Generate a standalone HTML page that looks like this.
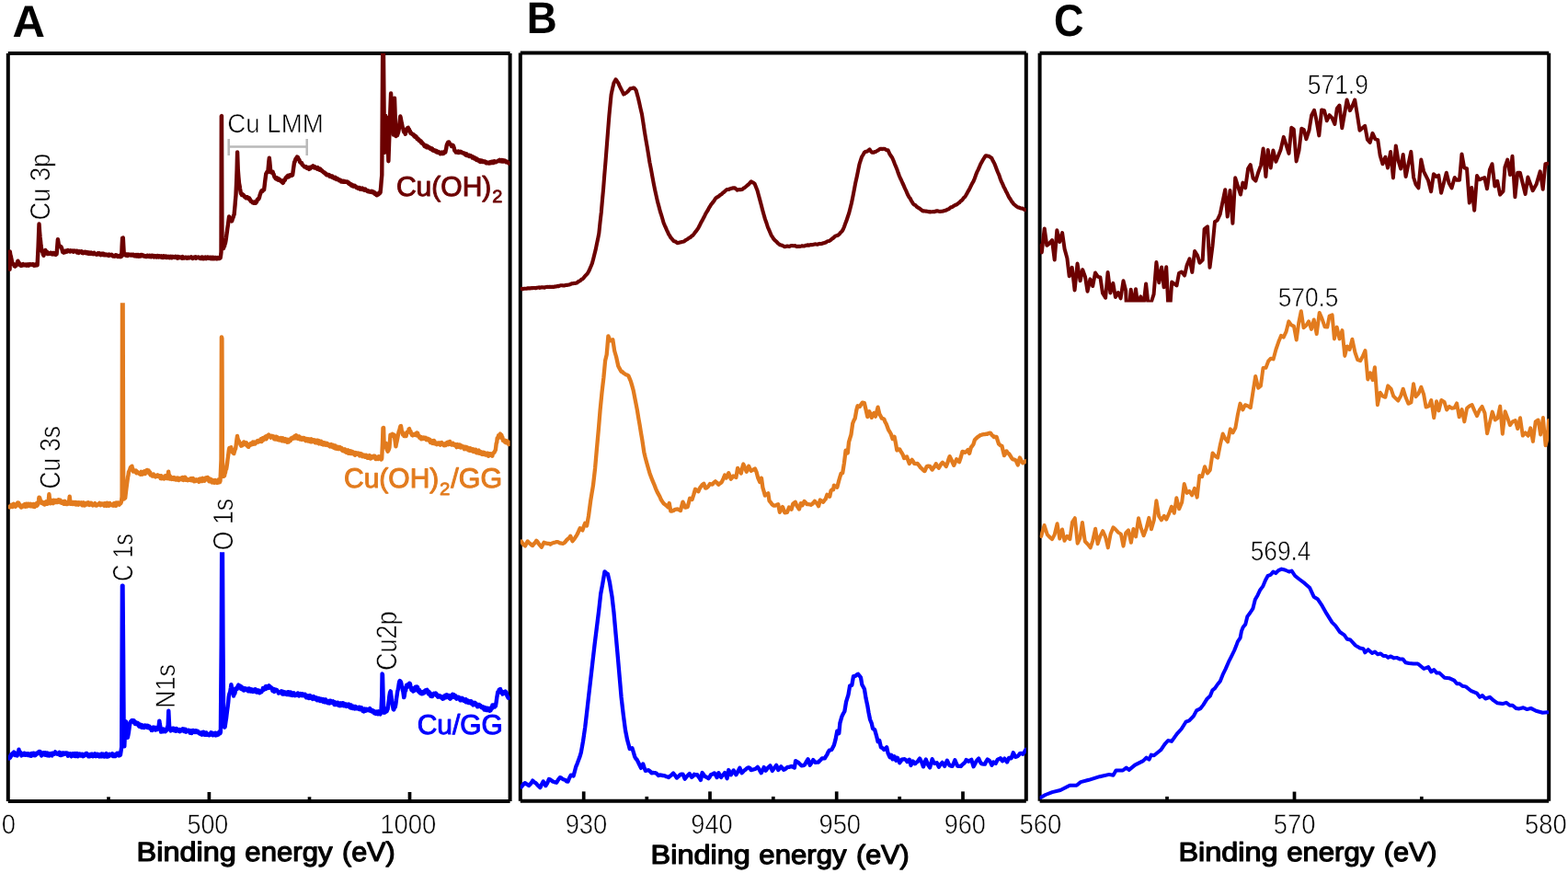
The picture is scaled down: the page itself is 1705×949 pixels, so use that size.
<!DOCTYPE html>
<html lang="en">
<head>
<meta charset="utf-8">
<title>XPS spectra</title>
<style>
html,body{margin:0;padding:0;background:#fff;}
body{width:1705px;height:949px;overflow:hidden;}
svg{display:block;}
</style>
</head>
<body>
<svg width="1705" height="949" viewBox="0 0 1705 949">
<rect x="0" y="0" width="1705" height="949" fill="#ffffff"/>
<defs>
<clipPath id="clA"><rect x="8.8" y="58.0" width="545.8" height="813.0"/></clipPath>
<clipPath id="clB"><rect x="565.8" y="57.6" width="550.0" height="813.2"/></clipPath>
<clipPath id="clC"><rect x="1130.6" y="57.8" width="553.6" height="813.0"/></clipPath>
</defs>
<path d="M8.8 58.0H554.6M554.6 58.0V871.0M554.6 871.0H8.8M8.8 871.0V58.0" fill="none" stroke="#000" stroke-width="4" stroke-linecap="butt"/>
<path d="M565.8 57.6H1115.8M1115.8 57.6V870.8M1115.8 870.8H565.8M565.8 870.8V57.6" fill="none" stroke="#000" stroke-width="4" stroke-linecap="butt"/>
<path d="M1130.6 57.8H1684.2M1684.2 57.8V870.8M1684.2 870.8H1130.6M1130.6 870.8V57.8" fill="none" stroke="#000" stroke-width="4" stroke-linecap="butt"/>
<rect x="225.55" y="861.0" width="3.7" height="10.0" fill="#000"/>
<rect x="443.65" y="861.0" width="3.7" height="10.0" fill="#000"/>
<rect x="116.15" y="866.3" width="3.7" height="4.7" fill="#000"/>
<rect x="334.65" y="866.3" width="3.7" height="4.7" fill="#000"/>
<rect x="632.85" y="860.4" width="3.7" height="10.4" fill="#000"/>
<rect x="770.15" y="860.4" width="3.7" height="10.4" fill="#000"/>
<rect x="907.85" y="860.4" width="3.7" height="10.4" fill="#000"/>
<rect x="1045.15" y="860.4" width="3.7" height="10.4" fill="#000"/>
<rect x="701.45" y="865.9" width="3.7" height="4.9" fill="#000"/>
<rect x="838.95" y="865.9" width="3.7" height="4.9" fill="#000"/>
<rect x="976.35" y="865.9" width="3.7" height="4.9" fill="#000"/>
<rect x="1405.65" y="860.6" width="3.7" height="10.2" fill="#000"/>
<rect x="1267.15" y="865.9" width="3.7" height="4.9" fill="#000"/>
<rect x="1543.95" y="865.9" width="3.7" height="4.9" fill="#000"/>
<defs>
<clipPath id="clAo"><rect x="8.8" y="329.3" width="545.8" height="541.7"/></clipPath>
<clipPath id="clAb"><rect x="8.8" y="600.2" width="545.8" height="270.8"/></clipPath>
<clipPath id="clCr"><rect x="1130.6" y="57.8" width="553.6" height="270.6"/></clipPath>
</defs>
<g clip-path="url(#clAb)">
<polyline points="10.0,824.4 10.6,822.8 11.1,823.6 11.7,820.6 12.2,821.8 12.7,820.8 13.2,819.3 13.7,820.4 14.2,818.4 14.7,819.3 15.2,817.6 15.7,818.0 16.2,819.4 16.7,821.1 17.2,819.0 17.7,819.7 18.2,821.3 18.7,821.5 19.1,819.3 19.6,817.7 20.0,818.8 20.5,814.7 21.0,818.2 21.5,817.1 21.9,817.5 22.4,818.2 22.9,819.6 23.4,821.4 23.8,819.2 24.3,820.5 24.7,820.7 25.2,819.8 25.6,820.4 26.1,818.7 26.6,818.7 27.0,819.2 27.5,820.8 27.9,819.9 28.4,819.5 28.8,820.4 29.3,819.9 29.8,819.4 30.2,821.1 30.7,820.8 31.1,819.3 31.6,820.4 32.0,820.3 32.5,821.5 32.9,821.0 33.4,819.5 33.9,821.8 34.3,818.9 34.8,820.0 35.2,821.1 35.7,819.1 36.1,820.2 36.6,818.7 37.0,820.9 37.5,821.2 38.0,820.3 38.5,821.2 39.0,819.1 39.5,820.2 40.0,819.6 40.5,819.4 41.1,818.1 41.6,818.6 42.2,818.1 42.7,817.1 43.2,818.4 43.6,817.0 44.1,819.8 44.6,820.2 45.1,821.4 45.5,820.8 46.0,819.0 46.4,819.4 46.9,820.4 47.3,818.2 47.8,819.7 48.2,818.7 48.7,818.6 49.2,818.4 49.6,820.9 50.1,818.7 50.5,819.1 51.0,819.6 51.4,821.3 51.9,818.6 52.3,819.9 52.8,820.3 53.3,821.4 53.7,821.1 54.2,821.2 54.6,819.2 55.1,819.7 55.5,819.4 56.0,821.2 56.4,821.4 56.9,818.6 57.3,818.7 57.8,818.9 58.2,818.8 58.7,819.6 59.2,819.8 59.7,818.5 60.2,817.4 60.7,818.6 61.2,818.2 61.7,818.6 62.2,819.7 62.7,819.1 63.2,818.7 63.7,819.2 64.2,819.7 64.7,817.8 65.2,820.8 65.7,820.7 66.2,821.0 66.6,820.8 67.1,819.5 67.5,819.5 68.0,818.5 68.4,820.4 68.9,818.5 69.4,818.5 69.8,819.1 70.3,818.9 70.7,819.6 71.2,818.6 71.6,818.5 72.1,819.1 72.5,818.9 73.0,819.9 73.5,818.8 73.9,821.7 74.4,820.8 74.8,819.3 75.3,819.7 75.7,820.0 76.2,820.1 76.7,819.3 77.1,821.8 77.6,822.3 78.0,820.5 78.5,820.5 78.9,819.2 79.4,819.2 79.8,820.1 80.3,819.8 80.7,821.7 81.2,819.4 81.6,819.0 82.1,822.1 82.5,820.7 83.0,819.4 83.4,820.7 83.9,819.0 84.3,820.7 84.8,822.2 85.2,821.8 85.7,821.3 86.1,819.8 86.6,820.1 87.0,819.5 87.5,821.5 87.9,820.7 88.4,821.5 88.8,820.0 89.3,819.7 89.7,821.7 90.2,822.2 90.6,821.8 91.1,821.6 91.5,821.7 92.0,821.4 92.4,819.7 92.9,820.7 93.3,820.1 93.8,819.0 94.3,819.0 94.7,819.9 95.2,819.8 95.6,821.3 96.1,822.2 96.5,820.5 97.0,822.1 97.4,822.3 97.9,822.2 98.3,820.2 98.8,819.7 99.2,819.7 99.7,819.6 100.1,819.7 100.6,821.1 101.0,822.1 101.5,821.9 101.9,820.6 102.4,821.2 102.8,821.7 103.3,819.3 103.7,821.3 104.2,822.1 104.6,821.7 105.1,821.6 105.5,820.7 106.0,819.7 106.5,821.7 106.9,820.2 107.4,821.8 107.8,822.4 108.3,820.4 108.7,820.5 109.2,822.3 109.6,821.6 110.1,819.7 110.5,819.5 111.0,819.6 111.4,822.2 111.9,821.9 112.3,819.6 112.8,822.0 113.2,822.5 113.7,821.4 114.1,820.4 114.6,821.0 115.0,819.6 115.5,819.2 115.9,822.5 116.4,821.4 116.8,821.0 117.3,822.4 117.8,820.7 118.2,822.1 118.7,821.9 119.1,819.8 119.6,820.0 120.0,820.1 120.5,819.9 121.0,821.0 121.4,819.9 121.9,820.4 122.3,819.4 122.8,822.1 123.2,820.1 123.7,820.5 124.2,820.9 124.6,822.0 125.1,820.3 125.5,822.0 126.0,820.5 126.4,820.6 126.9,820.6 127.3,818.8 127.8,820.2 128.3,819.3 128.7,818.7 129.2,821.4 129.6,819.2 130.1,820.2 130.5,821.1 131.0,820.3 131.6,816.1 132.2,812.0 132.9,636.7 133.5,636.6 134.1,712.4 134.6,788.7 135.3,811.4 136.2,789.9 136.6,787.4 137.1,784.5 137.7,792.8 138.3,801.9 138.8,801.7 139.3,799.6 139.9,796.1 140.4,792.4 140.9,788.8 141.5,785.9 142.0,784.5 142.6,784.2 143.1,783.4 143.7,784.5 144.2,783.1 144.7,784.2 145.2,785.0 145.7,783.3 146.1,784.9 146.6,786.7 147.1,786.9 147.6,785.1 148.1,785.6 148.6,786.9 149.0,785.8 149.5,786.6 150.0,786.2 150.4,788.4 150.9,789.0 151.4,789.6 151.8,787.3 152.3,789.4 152.8,789.4 153.2,787.8 153.7,790.5 154.2,790.8 154.7,788.3 155.1,790.9 155.6,789.0 156.1,789.4 156.6,791.1 157.1,790.6 157.6,788.4 158.1,789.3 158.5,789.7 159.0,789.1 159.5,788.7 160.0,789.3 160.4,791.0 160.9,788.8 161.4,790.9 161.8,790.7 162.3,789.6 162.8,790.9 163.3,792.1 163.7,792.0 164.2,790.7 164.7,793.8 165.1,793.2 165.6,793.8 166.0,790.9 166.5,791.4 166.9,790.6 167.4,793.1 167.8,791.4 168.3,790.9 168.7,791.9 169.2,793.6 169.6,793.3 170.1,791.4 170.6,790.8 171.0,793.1 171.5,791.7 171.9,791.9 172.4,790.8 172.9,787.0 173.3,783.6 173.8,787.2 174.3,789.5 175.1,795.6 175.6,794.5 176.0,795.1 176.5,792.6 177.0,795.2 177.4,792.5 177.9,795.2 178.4,793.8 178.9,793.4 179.3,794.1 179.8,795.3 180.3,793.1 180.7,792.6 181.2,793.9 181.7,791.6 182.1,789.9 182.6,789.8 183.3,772.6 184.1,789.0 184.8,792.9 185.3,792.8 185.7,794.4 186.2,792.8 186.6,793.5 187.1,792.4 187.5,792.9 188.0,791.8 188.5,792.6 188.9,791.8 189.4,794.2 189.8,793.6 190.3,792.3 190.8,793.3 191.2,794.8 191.7,792.0 192.1,794.4 192.6,793.1 193.0,793.3 193.5,794.4 194.0,793.0 194.4,793.4 194.9,794.1 195.4,795.2 195.9,793.1 196.3,794.8 196.8,794.4 197.3,794.2 197.8,793.5 198.2,793.4 198.7,792.4 199.2,792.8 199.7,792.6 200.1,795.0 200.6,793.4 201.1,793.1 201.5,792.9 202.0,795.6 202.4,795.7 202.9,795.1 203.4,793.9 203.8,793.8 204.3,794.1 204.7,794.7 205.2,793.7 205.7,794.8 206.1,794.2 206.6,796.7 207.1,796.8 207.5,795.4 208.0,794.4 208.4,797.0 208.9,794.8 209.4,795.0 209.8,793.9 210.3,795.3 210.7,795.6 211.2,795.8 211.7,794.8 212.1,795.9 212.6,794.3 213.0,795.3 213.5,794.7 213.9,795.9 214.4,794.7 214.8,794.7 215.3,795.7 215.8,795.5 216.2,796.8 216.7,796.7 217.1,797.5 217.6,797.3 218.0,797.5 218.5,798.1 218.9,796.5 219.4,796.4 219.8,798.7 220.3,795.9 220.8,797.9 221.2,797.7 221.7,795.8 222.1,798.5 222.6,798.8 223.0,797.9 223.5,798.4 223.9,798.7 224.4,796.5 224.9,797.8 225.3,797.8 225.8,798.9 226.2,798.9 226.7,799.0 227.1,798.2 227.6,799.3 228.1,798.6 228.5,798.6 229.0,797.1 229.4,796.4 229.9,796.8 230.4,797.6 230.8,796.8 231.3,799.3 231.7,798.4 232.2,798.7 232.6,798.7 233.1,798.9 233.6,798.3 234.0,796.7 234.5,799.4 234.9,799.3 235.4,798.4 235.8,798.6 236.3,799.0 236.8,796.7 237.3,798.6 237.8,796.6 238.4,795.6 238.9,795.9 239.4,797.1 239.9,795.8 240.7,700.1 241.2,591.6 241.9,590.0 242.5,699.9 243.2,788.9 243.7,790.0 244.1,790.6 244.6,790.1 245.1,786.9 245.6,783.5 246.1,780.3 246.6,776.1 247.1,772.1 247.7,767.7 248.2,763.6 248.7,757.6 249.1,755.4 249.6,753.7 250.1,752.6 250.5,750.3 250.9,747.8 251.4,744.1 251.9,747.0 252.4,748.9 253.0,751.0 253.5,751.9 254.0,756.6 254.5,753.0 255.1,754.3 255.6,752.8 256.2,748.4 256.7,748.6 257.2,749.2 257.7,749.1 258.3,746.7 258.8,745.4 259.3,744.6 259.8,747.4 260.2,745.2 260.7,746.7 261.1,745.5 261.6,747.1 262.1,748.8 262.5,746.3 263.0,748.9 263.5,748.2 263.9,749.7 264.4,749.4 264.9,748.1 265.3,750.6 265.8,749.5 266.2,748.2 266.7,748.4 267.2,750.1 267.6,749.9 268.1,749.4 268.6,748.9 269.1,749.6 269.5,749.5 270.0,751.3 270.5,748.4 270.9,751.0 271.4,751.3 271.9,748.8 272.3,751.5 272.8,750.8 273.3,751.5 273.8,749.4 274.2,749.7 274.7,749.7 275.2,751.9 275.6,750.6 276.1,749.9 276.6,750.3 277.0,749.9 277.5,749.2 278.0,749.5 278.4,752.1 278.9,750.3 279.3,752.6 279.8,750.4 280.3,750.6 280.7,751.5 281.2,750.5 281.7,751.3 282.1,753.3 282.6,753.2 283.1,752.6 283.5,751.7 284.0,752.3 284.5,752.1 285.0,750.5 285.4,750.7 285.9,748.1 286.4,750.1 286.8,748.8 287.3,749.5 287.8,748.9 288.3,747.3 288.7,746.2 289.2,748.9 289.7,745.9 290.2,746.9 290.7,746.3 291.1,746.0 291.6,747.3 292.1,747.9 292.6,745.3 293.1,747.1 293.5,746.3 294.0,747.7 294.4,747.6 294.9,747.3 295.3,747.7 295.8,748.3 296.3,750.9 296.7,749.7 297.2,748.9 297.7,751.5 298.2,752.0 298.6,750.3 299.1,749.5 299.6,749.9 300.0,749.7 300.5,750.8 301.0,750.1 301.4,750.8 301.9,751.1 302.4,752.3 302.9,753.6 303.3,753.3 303.8,752.4 304.3,752.5 304.7,752.9 305.2,752.4 305.7,752.3 306.1,751.4 306.6,752.2 307.1,754.6 307.5,751.8 308.0,753.1 308.4,753.6 308.9,754.5 309.4,752.3 309.8,752.5 310.3,752.5 310.8,753.1 311.2,753.3 311.7,755.0 312.2,754.8 312.6,754.9 313.1,752.1 313.6,752.2 314.0,754.5 314.5,755.2 315.0,753.9 315.4,754.3 315.9,752.4 316.3,753.8 316.8,755.7 317.3,755.4 317.7,755.5 318.2,756.0 318.7,753.6 319.1,753.2 319.6,753.4 320.1,754.7 320.5,755.3 321.0,756.2 321.5,755.5 322.0,755.3 322.4,755.7 322.9,754.7 323.4,755.1 323.8,753.4 324.3,756.0 324.8,754.1 325.2,756.5 325.7,755.6 326.2,754.5 326.7,754.0 327.1,754.4 327.6,755.8 328.1,756.1 328.5,754.2 329.0,754.2 329.4,755.9 329.9,756.2 330.3,755.6 330.8,755.2 331.3,756.6 331.7,754.7 332.2,755.8 332.6,756.5 333.1,758.3 333.5,757.3 334.0,758.2 334.4,757.0 334.9,756.3 335.4,756.4 335.8,759.0 336.3,758.2 336.7,757.0 337.2,756.1 337.6,757.9 338.1,758.6 338.6,757.8 339.0,757.4 339.5,758.9 339.9,759.9 340.4,757.6 340.9,757.1 341.3,758.2 341.8,758.6 342.2,759.6 342.7,758.1 343.2,760.3 343.6,760.2 344.1,759.5 344.6,758.6 345.0,761.3 345.5,759.2 345.9,761.0 346.4,759.1 346.9,759.2 347.3,761.1 347.8,759.7 348.2,762.0 348.7,760.6 349.2,759.7 349.6,759.9 350.1,760.7 350.5,761.6 351.0,762.7 351.5,760.1 351.9,761.1 352.4,760.6 352.8,763.3 353.3,760.6 353.8,760.4 354.2,760.5 354.7,761.8 355.2,763.6 355.6,763.7 356.1,763.3 356.5,764.3 357.0,764.2 357.5,762.2 357.9,761.9 358.4,764.5 358.8,764.0 359.3,761.7 359.8,764.0 360.2,763.1 360.7,763.2 361.1,763.2 361.6,762.7 362.1,762.3 362.5,763.3 363.0,763.7 363.4,765.9 363.9,763.2 364.4,766.1 364.8,763.7 365.3,764.3 365.8,766.0 366.2,766.1 366.7,764.9 367.1,763.7 367.6,765.2 368.1,765.0 368.5,767.0 369.0,764.6 369.4,765.3 369.9,767.2 370.4,764.3 370.9,765.6 371.3,766.9 371.8,766.7 372.3,764.2 372.8,764.2 373.3,764.3 373.7,767.2 374.2,764.9 374.7,766.5 375.2,767.2 375.6,765.5 376.1,765.4 376.6,767.9 377.0,766.9 377.5,765.9 378.0,767.6 378.4,766.4 378.9,766.4 379.4,765.6 379.8,768.3 380.3,769.0 380.8,768.2 381.2,769.4 381.7,766.5 382.2,767.3 382.6,768.2 383.1,769.9 383.5,770.0 384.0,768.2 384.4,767.8 384.9,768.5 385.3,768.8 385.8,770.4 386.3,768.0 386.7,770.2 387.2,770.0 387.6,770.4 388.1,770.3 388.5,769.9 389.0,769.0 389.4,769.1 389.9,769.3 390.4,770.9 390.8,768.7 391.3,769.3 391.8,771.3 392.3,769.7 392.7,769.3 393.2,769.3 393.7,771.3 394.2,770.6 394.6,773.0 395.1,772.9 395.6,773.4 396.1,771.1 396.5,770.6 397.0,770.8 397.5,772.1 397.9,772.7 398.4,771.7 398.9,770.8 399.4,771.3 399.8,771.9 400.3,772.0 400.8,772.1 401.2,772.3 401.7,771.6 402.2,770.0 402.6,772.7 403.1,771.2 403.6,772.4 404.0,772.0 404.5,773.5 405.0,772.0 405.5,772.5 405.9,772.7 406.4,772.7 406.9,775.3 407.3,774.3 407.8,773.5 408.3,773.8 408.8,775.9 409.2,774.3 409.7,773.5 410.2,775.5 410.6,775.1 411.1,776.3 411.6,773.3 412.0,774.7 412.5,775.9 413.0,776.0 413.5,776.4 413.9,773.5 414.4,775.0 415.2,756.7 415.6,732.4 416.0,733.7 416.6,756.9 417.5,774.8 418.1,772.9 418.7,774.5 419.2,772.7 419.7,771.7 420.1,773.1 420.6,773.3 421.1,770.0 421.6,771.0 422.2,766.4 422.8,761.5 423.4,756.5 424.0,753.0 424.7,751.4 425.2,755.2 425.8,759.1 426.3,762.9 426.8,765.6 427.2,768.4 427.7,771.0 428.2,771.5 428.8,769.1 429.3,768.8 429.8,768.5 430.3,765.6 430.8,762.1 431.2,758.6 431.7,755.3 432.2,751.8 432.7,749.8 433.2,747.5 433.8,743.1 434.3,740.7 434.8,740.0 435.3,740.5 435.9,741.5 436.4,743.1 436.9,746.7 437.4,746.9 437.8,750.1 438.3,751.7 438.7,754.3 439.2,758.1 439.7,756.8 440.2,752.9 440.6,750.6 441.1,750.7 441.6,747.1 442.1,744.7 442.6,747.2 443.1,744.9 443.6,745.7 444.1,743.7 444.6,744.7 445.1,742.7 445.6,742.8 446.0,743.5 446.5,746.5 446.9,748.0 447.4,750.1 447.9,748.0 448.4,750.5 448.8,750.4 449.3,751.5 449.8,751.0 450.3,750.4 450.8,750.1 451.2,750.4 451.7,746.6 452.2,746.8 452.7,746.8 453.2,748.3 453.7,746.5 454.1,747.2 454.6,750.8 455.1,751.8 455.6,751.0 456.1,749.9 456.6,753.2 457.1,751.7 457.7,753.8 458.2,753.2 458.7,754.2 459.2,752.2 459.7,754.1 460.1,751.9 460.6,752.2 461.0,753.4 461.5,753.1 462.0,750.6 462.4,750.4 462.9,750.7 463.3,750.9 463.8,750.1 464.3,749.8 464.8,750.8 465.3,753.0 465.9,754.2 466.4,751.9 466.9,754.2 467.4,755.5 467.9,753.5 468.3,756.7 468.8,754.7 469.2,756.8 469.7,757.1 470.2,756.8 470.7,755.1 471.1,754.9 471.6,754.9 472.1,753.7 472.6,754.8 473.0,754.4 473.5,754.7 473.9,753.5 474.4,755.9 474.9,755.7 475.3,755.1 475.8,757.2 476.2,757.6 476.7,756.8 477.2,756.1 477.6,757.3 478.1,756.3 478.6,756.6 479.0,757.9 479.5,757.0 480.0,758.4 480.5,758.9 480.9,757.5 481.4,759.8 481.9,757.6 482.4,759.4 482.8,759.3 483.3,758.0 483.8,756.1 484.3,757.3 484.8,756.6 485.3,758.2 485.7,755.1 486.2,757.2 486.7,757.4 487.2,756.9 487.7,757.6 488.1,755.9 488.6,758.9 489.1,757.7 489.6,759.7 490.1,759.1 490.6,756.2 491.1,757.9 491.6,758.0 492.1,754.6 492.6,755.2 493.1,756.9 493.6,755.2 494.0,758.0 494.5,756.2 495.0,758.4 495.5,756.5 496.0,758.0 496.5,759.7 496.9,757.7 497.4,758.2 497.9,759.3 498.4,758.8 498.9,757.9 499.3,758.5 499.8,758.5 500.3,761.2 500.8,760.5 501.3,761.3 501.8,758.9 502.2,761.1 502.7,758.9 503.2,760.4 503.7,760.9 504.2,760.1 504.6,762.0 505.1,761.1 505.6,761.4 506.1,762.6 506.5,760.1 507.0,763.3 507.5,762.2 508.0,761.6 508.4,763.1 508.9,761.5 509.4,764.1 509.9,762.9 510.3,762.4 510.8,763.9 511.3,763.0 511.7,762.3 512.2,764.5 512.7,762.3 513.1,765.2 513.6,763.5 514.1,765.0 514.5,766.4 515.0,765.3 515.5,765.8 515.9,764.8 516.4,763.9 516.9,764.3 517.3,764.9 517.8,766.7 518.3,766.3 518.7,766.7 519.2,768.2 519.6,765.8 520.1,766.3 520.5,768.0 521.0,766.0 521.4,766.2 521.9,767.6 522.4,766.9 522.8,768.0 523.3,767.7 523.7,769.1 524.2,769.3 524.6,768.2 525.1,769.8 525.5,769.5 526.0,768.6 526.5,771.5 526.9,769.3 527.4,769.1 527.9,769.1 528.3,771.1 528.8,772.1 529.2,772.0 529.7,770.8 530.2,770.5 530.6,769.9 531.1,772.2 531.6,772.1 532.0,771.5 532.5,772.7 533.0,771.3 533.5,772.3 534.0,770.9 534.4,768.6 534.9,770.2 535.4,766.5 535.9,768.1 536.4,767.6 536.9,767.0 537.4,766.3 537.9,768.6 538.4,765.9 538.9,767.5 539.4,764.7 539.9,761.2 540.3,758.2 540.8,755.3 541.3,752.2 541.8,752.2 542.2,752.3 542.7,749.7 543.1,749.7 543.6,749.2 544.1,749.1 544.6,752.6 545.0,753.0 545.5,753.4 546.0,751.7 546.5,754.5 547.0,754.1 547.5,753.0 548.0,753.9 548.5,752.8 549.0,752.0 549.5,751.5 550.0,752.6 550.5,752.7 551.0,754.5 551.5,756.7 552.0,757.2 552.5,758.5 553.0,758.8" fill="none" stroke="#0000ff" stroke-width="4.4" stroke-linejoin="round" stroke-linecap="round"/>
</g>
<g clip-path="url(#clAo)">
<polyline points="10.0,551.2 10.6,551.4 11.1,550.2 11.7,550.7 12.2,549.7 12.6,548.8 13.1,550.0 13.5,551.1 14.0,548.5 14.4,550.7 14.9,547.7 15.3,548.5 15.8,548.4 16.2,550.1 16.7,550.7 17.1,550.0 17.6,548.5 18.1,549.8 18.6,547.4 19.2,546.5 19.7,548.2 20.2,546.6 20.7,547.7 21.3,548.4 21.8,550.3 22.4,549.4 22.9,551.5 23.4,550.9 23.8,551.3 24.3,549.8 24.7,550.7 25.2,550.1 25.6,549.1 26.1,548.7 26.6,550.0 27.0,548.1 27.5,550.8 27.9,548.1 28.4,547.7 28.8,547.8 29.3,550.6 29.8,548.6 30.2,547.9 30.7,547.6 31.2,547.6 31.7,549.9 32.1,549.7 32.6,549.9 33.1,550.1 33.5,547.8 34.0,549.6 34.5,548.9 34.9,550.4 35.4,550.4 35.9,550.7 36.4,547.9 36.8,550.7 37.3,550.8 37.8,551.0 38.2,548.1 38.7,548.5 39.2,547.9 39.6,547.3 40.1,549.8 40.5,549.4 41.0,548.5 41.5,546.9 42.0,544.0 42.5,540.6 43.0,540.9 43.4,541.9 43.9,545.1 44.3,544.2 44.8,545.5 45.2,546.8 45.7,545.5 46.1,546.2 46.6,546.3 47.0,547.8 47.5,546.6 47.9,546.4 48.4,548.5 48.9,547.0 49.3,548.1 49.8,547.3 50.2,545.3 50.7,546.6 51.1,546.6 51.6,547.8 52.0,546.3 52.5,546.9 53.4,537.3 54.3,545.2 54.8,547.3 55.2,544.6 55.6,547.0 56.1,544.7 56.5,544.1 57.0,544.6 57.4,546.5 57.9,547.1 58.3,543.7 58.8,545.3 59.2,545.2 59.7,546.1 60.1,544.0 60.6,544.9 61.0,544.3 61.5,545.9 61.9,543.9 62.4,546.1 62.8,543.8 63.3,543.4 63.8,545.2 64.2,544.7 64.7,543.5 65.1,545.5 65.6,543.7 66.0,546.3 66.5,546.1 66.9,546.6 67.4,546.2 67.8,545.4 68.3,545.8 68.7,545.9 69.2,547.7 69.7,545.0 70.2,547.8 70.6,544.9 71.1,545.5 71.6,545.8 72.1,548.0 72.5,546.6 73.0,546.3 73.5,548.0 74.0,545.8 74.4,546.6 74.9,546.8 75.7,539.7 76.6,547.7 77.1,547.3 77.5,546.3 78.0,546.3 78.4,545.8 78.9,548.1 79.3,547.5 79.8,547.8 80.2,545.9 80.7,546.9 81.1,548.0 81.6,547.4 82.0,545.9 82.5,547.1 82.9,548.6 83.4,546.4 83.8,546.3 84.3,546.7 84.7,548.1 85.2,548.6 85.7,546.3 86.1,546.3 86.6,546.6 87.0,546.9 87.5,547.6 87.9,546.4 88.4,547.0 88.8,546.6 89.3,549.3 89.7,548.5 90.2,546.4 90.6,549.4 91.1,546.5 91.5,547.4 92.0,549.5 92.4,548.9 92.9,548.7 93.3,547.7 93.8,547.0 94.3,548.5 94.7,546.7 95.2,547.0 95.6,547.6 96.1,546.4 96.5,547.7 97.0,549.0 97.4,548.7 97.9,548.1 98.3,548.5 98.8,547.9 99.2,546.9 99.7,548.4 100.1,547.8 100.6,548.9 101.0,549.5 101.5,547.9 101.9,548.4 102.4,549.0 102.8,547.8 103.3,547.2 103.7,548.9 104.2,549.4 104.6,549.1 105.1,548.8 105.5,549.3 106.0,548.8 106.5,548.6 106.9,548.0 107.4,547.5 107.8,548.6 108.3,546.8 108.7,547.9 109.2,549.2 109.6,548.9 110.1,548.6 110.5,547.4 111.0,548.0 111.4,548.1 111.9,548.6 112.3,547.9 112.8,548.8 113.2,549.7 113.7,547.2 114.1,548.8 114.6,549.2 115.0,547.9 115.5,548.2 115.9,549.9 116.4,546.7 116.8,548.4 117.3,547.1 117.8,549.2 118.2,549.8 118.7,548.3 119.2,546.9 119.6,548.5 120.1,548.4 120.5,549.0 121.0,548.3 121.5,548.7 121.9,549.3 122.4,548.3 122.9,547.9 123.3,549.7 123.8,547.2 124.2,548.8 124.7,547.8 125.2,549.0 125.6,546.8 126.1,549.8 126.6,547.6 127.0,546.6 127.5,547.3 128.0,547.7 128.4,546.4 128.9,547.8 129.3,547.8 129.8,548.7 130.3,547.5 130.7,547.2 131.2,547.1 131.7,546.2 132.1,544.2 132.6,540.0 133.0,319.0 133.6,320.2 134.2,539.6 135.0,542.5 135.6,541.0 136.2,541.1 136.8,535.7 137.5,530.1 138.0,526.2 138.5,522.5 139.0,518.6 139.5,516.6 140.0,512.8 140.5,512.1 141.0,511.1 141.5,509.4 142.0,508.1 142.5,507.5 143.0,508.2 143.5,506.7 144.0,510.3 144.5,509.8 145.0,512.6 145.5,511.7 146.0,512.2 146.5,512.0 146.9,512.7 147.4,512.1 147.9,511.6 148.4,514.3 148.9,512.9 149.4,513.0 149.9,513.3 150.3,514.1 150.8,514.1 151.3,515.0 151.8,515.0 152.2,513.9 152.7,515.8 153.1,515.5 153.6,512.8 154.0,515.3 154.5,515.6 154.9,515.1 155.4,512.9 155.8,515.2 156.3,514.4 156.7,512.3 157.2,512.2 157.7,515.1 158.2,513.8 158.7,512.1 159.2,511.2 159.7,511.0 160.2,511.0 160.7,512.5 161.2,511.7 161.7,511.6 162.2,514.7 162.7,514.9 163.2,513.4 163.7,516.4 164.2,516.1 164.7,516.8 165.1,516.5 165.6,517.4 166.0,517.2 166.5,517.5 166.9,515.5 167.4,517.3 167.8,516.9 168.3,517.7 168.7,516.8 169.2,518.4 169.6,517.5 170.1,516.6 170.6,516.6 171.0,516.5 171.5,517.8 171.9,516.5 172.4,518.0 172.8,517.0 173.3,518.3 173.7,518.5 174.2,518.8 174.6,520.0 175.1,517.2 175.5,520.2 176.0,519.1 176.4,519.4 176.9,519.7 177.3,520.2 177.8,518.6 178.2,518.7 178.7,520.5 179.2,517.5 179.6,519.3 180.1,519.3 180.5,517.2 181.0,519.1 181.4,519.3 181.9,520.1 182.3,518.5 183.2,512.7 183.6,515.9 184.1,519.1 184.6,520.6 185.0,517.8 185.5,520.2 186.0,519.9 186.5,519.1 186.9,520.9 187.4,519.3 187.9,519.8 188.4,520.0 188.8,520.9 189.3,519.1 189.8,519.9 190.3,520.0 190.7,520.5 191.2,521.5 191.7,519.7 192.1,521.5 192.6,520.1 193.0,520.4 193.5,519.6 194.0,520.4 194.4,522.0 194.9,521.0 195.3,521.4 195.8,519.9 196.3,519.8 196.7,519.8 197.2,520.7 197.6,520.9 198.1,521.4 198.6,518.9 199.0,521.2 199.5,521.8 199.9,520.6 200.4,518.9 200.9,519.8 201.3,518.8 201.8,519.4 202.2,521.9 202.7,520.9 203.2,521.1 203.6,521.6 204.1,522.1 204.5,521.2 205.0,521.3 205.4,521.4 205.9,521.7 206.3,521.4 206.8,521.8 207.2,520.2 207.7,521.9 208.1,521.2 208.6,522.3 209.1,520.1 209.5,520.5 210.0,520.1 210.4,522.6 210.9,523.2 211.3,522.4 211.8,521.5 212.2,523.1 212.7,523.0 213.1,522.4 213.6,521.4 214.0,521.6 214.5,522.1 214.9,521.8 215.4,522.3 215.9,522.9 216.3,523.8 216.8,520.7 217.2,522.4 217.7,520.5 218.2,520.7 218.6,522.9 219.1,522.0 219.5,523.1 220.0,521.4 220.4,519.8 220.9,521.0 221.4,521.6 221.8,522.7 222.3,522.8 222.7,521.0 223.2,520.7 223.7,519.5 224.1,521.3 224.6,519.7 225.0,519.4 225.5,518.9 226.0,519.1 226.4,521.7 226.9,520.1 227.4,523.2 227.8,520.5 228.3,523.4 228.7,521.2 229.2,521.1 229.7,523.8 230.1,522.4 230.6,524.4 231.1,522.5 231.5,522.0 232.0,524.4 232.5,524.2 232.9,524.7 233.4,524.2 233.9,522.0 234.3,523.8 234.8,524.0 235.3,523.2 235.8,524.7 236.2,522.4 236.7,524.8 237.2,523.9 237.6,521.5 238.1,521.4 238.6,523.6 239.0,524.1 239.5,522.8 240.0,511.4 240.5,500.1 240.9,366.4 241.4,367.7 241.9,500.0 242.7,518.0 243.3,517.8 244.0,517.3 244.5,514.8 245.0,513.6 245.6,509.7 246.1,509.9 246.6,506.8 247.1,503.4 247.5,499.8 248.0,496.2 248.5,492.6 248.9,489.2 249.4,487.0 249.9,487.1 250.4,486.9 250.8,486.6 251.3,486.4 251.8,490.4 252.3,490.4 252.8,491.7 253.3,490.8 253.8,492.7 254.3,493.0 254.7,491.7 255.2,490.0 255.6,488.1 256.1,487.9 256.6,484.5 257.1,480.7 257.5,477.3 258.0,474.0 258.5,476.9 258.9,478.5 259.4,478.7 259.9,479.6 260.4,480.9 260.8,481.9 261.3,482.8 261.8,484.0 262.2,484.7 262.7,482.2 263.2,484.4 263.7,483.8 264.1,483.4 264.6,481.9 265.1,480.4 265.6,481.8 266.1,482.1 266.5,482.1 267.0,483.3 267.4,481.9 267.9,481.4 268.3,483.4 268.8,484.7 269.2,483.1 269.7,485.5 270.2,485.8 270.7,483.2 271.2,484.2 271.7,484.1 272.1,483.1 272.6,482.0 273.1,481.9 273.6,483.3 274.1,483.2 274.6,481.9 275.0,480.5 275.5,482.8 275.9,482.5 276.4,480.6 276.8,481.6 277.3,482.5 277.7,482.3 278.2,481.0 278.6,480.7 279.1,480.9 279.5,479.4 280.0,479.3 280.5,479.0 281.0,480.6 281.5,479.2 281.9,479.7 282.4,478.9 282.9,479.1 283.4,477.6 283.9,477.1 284.4,480.1 284.8,477.7 285.3,476.6 285.7,478.1 286.2,478.4 286.6,476.0 287.1,477.3 287.6,476.2 288.0,476.5 288.5,474.6 288.9,474.4 289.4,477.4 289.8,476.8 290.3,475.3 290.8,474.9 291.3,473.3 291.8,474.4 292.3,472.6 292.8,473.8 293.3,473.8 293.8,474.6 294.3,475.7 294.8,473.9 295.3,473.7 295.8,474.4 296.2,474.4 296.7,474.1 297.2,474.1 297.6,475.9 298.1,477.1 298.6,475.7 299.0,477.5 299.5,477.5 300.0,474.7 300.5,476.6 300.9,476.0 301.4,475.1 301.9,478.0 302.3,475.7 302.8,476.9 303.3,477.2 303.7,478.4 304.2,477.5 304.7,476.7 305.1,477.0 305.6,476.1 306.1,479.0 306.5,479.2 307.0,476.7 307.5,476.3 307.9,477.1 308.4,477.6 308.9,479.6 309.4,479.7 309.8,479.6 310.3,477.1 310.8,479.7 311.2,479.6 311.7,479.5 312.2,480.8 312.6,477.8 313.1,478.2 313.6,480.0 314.0,480.4 314.5,479.3 315.0,477.7 315.4,478.5 315.9,478.8 316.4,476.4 316.8,476.9 317.3,476.4 317.8,475.7 318.3,476.7 318.7,475.4 319.2,475.4 319.7,474.8 320.1,476.4 320.6,473.9 321.1,476.0 321.5,474.0 322.0,473.2 322.5,476.4 322.9,474.1 323.4,476.7 323.8,476.6 324.3,476.8 324.8,474.4 325.2,475.6 325.7,474.6 326.1,477.5 326.6,477.4 327.1,476.8 327.5,476.3 328.0,476.1 328.4,477.9 328.9,476.8 329.3,477.5 329.8,476.0 330.3,476.4 330.7,476.0 331.2,478.3 331.6,477.9 332.1,476.7 332.6,479.2 333.0,477.2 333.5,477.8 334.0,477.0 334.4,477.5 334.9,479.5 335.3,477.8 335.8,477.3 336.3,478.5 336.7,478.0 337.2,480.0 337.7,477.4 338.1,480.4 338.6,477.3 339.1,480.3 339.5,479.6 340.0,478.1 340.4,479.1 340.9,478.5 341.4,478.4 341.8,478.3 342.3,478.9 342.8,481.2 343.2,481.4 343.7,481.3 344.1,478.6 344.6,479.4 345.1,481.6 345.5,478.8 346.0,481.3 346.4,479.9 346.9,482.4 347.4,479.3 347.8,482.1 348.3,480.6 348.7,480.1 349.2,479.8 349.6,482.7 350.1,481.8 350.6,480.8 351.0,481.8 351.5,483.5 351.9,481.3 352.4,482.6 352.9,481.3 353.3,481.6 353.8,483.7 354.2,483.7 354.7,482.0 355.1,481.8 355.6,481.9 356.0,483.9 356.5,483.6 356.9,483.0 357.4,482.9 357.8,484.4 358.3,484.9 358.8,485.4 359.2,484.7 359.7,483.6 360.1,483.2 360.6,485.6 361.0,484.7 361.5,485.9 361.9,483.7 362.4,486.4 362.8,485.0 363.3,486.8 363.7,487.0 364.2,485.9 364.6,484.4 365.1,487.6 365.6,486.3 366.0,487.8 366.5,485.9 366.9,485.8 367.4,488.1 367.8,486.7 368.3,486.2 368.8,487.1 369.2,488.0 369.7,486.1 370.1,488.0 370.6,488.0 371.1,488.4 371.5,487.2 372.0,489.4 372.4,489.9 372.9,490.2 373.3,488.5 373.8,490.0 374.3,489.0 374.7,490.4 375.2,488.3 375.6,491.2 376.1,491.6 376.5,490.2 377.0,490.4 377.5,490.7 377.9,490.9 378.4,489.3 378.8,492.7 379.3,490.3 379.7,490.3 380.2,490.2 380.6,490.9 381.1,493.0 381.6,490.5 382.0,490.9 382.5,493.1 382.9,491.5 383.4,491.1 383.8,493.2 384.3,493.3 384.7,493.3 385.2,494.1 385.7,492.1 386.1,494.8 386.6,494.3 387.0,492.1 387.5,492.4 388.0,493.7 388.4,493.8 388.9,493.1 389.4,492.7 389.8,493.7 390.3,492.8 390.7,494.4 391.2,495.4 391.7,493.1 392.1,494.6 392.6,495.2 393.0,493.3 393.5,495.6 394.0,496.1 394.4,494.4 394.9,494.6 395.4,496.1 395.8,495.2 396.3,494.9 396.8,496.8 397.2,496.4 397.7,495.0 398.1,494.8 398.6,495.3 399.1,495.7 399.5,497.7 400.0,497.2 400.5,497.7 400.9,497.5 401.4,497.7 401.9,495.1 402.3,496.8 402.8,498.5 403.3,498.4 403.7,496.1 404.2,496.8 404.7,497.5 405.2,496.6 405.6,497.2 406.1,495.7 406.6,497.0 407.1,497.3 407.5,495.7 408.0,496.1 408.5,499.0 409.0,498.4 409.4,498.9 409.9,498.0 410.4,498.6 410.9,498.9 411.3,499.0 411.8,496.1 412.3,498.3 412.8,497.0 413.3,498.5 413.8,497.2 414.2,498.1 414.7,499.5 415.2,498.2 416.0,480.9 416.5,465.1 417.1,465.0 417.7,486.1 418.2,482.7 418.8,481.6 419.3,481.6 419.8,481.9 420.2,485.6 420.7,489.0 421.1,489.5 421.6,490.8 422.2,489.9 422.8,488.6 423.4,486.7 423.9,480.3 424.5,472.7 425.0,473.2 425.4,473.4 425.9,472.9 426.4,472.6 426.8,471.9 427.3,473.4 427.8,474.2 428.2,473.3 428.7,472.8 429.3,476.8 429.8,480.5 430.4,485.3 430.9,482.3 431.4,480.5 431.8,478.6 432.3,476.0 432.8,473.4 433.3,470.9 433.9,468.6 434.4,467.4 435.0,464.7 435.5,463.2 436.0,463.1 436.5,466.2 437.0,469.8 437.5,469.5 438.0,472.5 438.4,472.3 438.9,471.7 439.4,474.1 439.8,471.9 440.2,473.5 440.7,471.5 441.2,471.3 441.6,474.1 442.1,471.8 442.6,469.7 443.1,469.9 443.6,469.3 444.1,469.5 444.6,466.5 445.1,466.1 445.6,469.6 446.0,469.9 446.5,469.0 446.9,470.7 447.4,471.8 447.9,472.9 448.3,472.6 448.8,473.4 449.2,473.2 449.7,472.1 450.1,472.8 450.6,472.8 451.0,472.8 451.5,471.8 451.9,472.8 452.4,472.5 452.8,473.2 453.3,470.4 453.8,473.4 454.2,470.8 454.7,473.8 455.2,473.6 455.6,473.7 456.1,475.7 456.6,474.8 457.1,474.7 457.5,476.4 458.0,477.1 458.5,476.2 458.9,475.5 459.4,475.8 459.9,475.9 460.4,476.9 460.8,475.5 461.3,475.8 461.8,476.5 462.2,475.9 462.7,475.8 463.2,477.7 463.7,478.2 464.1,477.3 464.6,477.4 465.1,476.8 465.6,477.5 466.1,477.2 466.6,479.0 467.1,479.3 467.5,477.9 468.0,481.0 468.5,479.3 469.0,481.2 469.4,481.3 469.9,481.8 470.4,479.3 470.9,480.2 471.3,482.0 471.8,479.0 472.3,479.3 472.8,481.1 473.2,481.0 473.7,482.6 474.2,482.2 474.7,481.5 475.1,483.2 475.6,481.7 476.1,481.7 476.5,482.4 477.0,481.5 477.5,481.4 477.9,482.3 478.4,481.6 478.9,483.7 479.3,482.8 479.8,482.4 480.3,481.0 480.7,482.1 481.2,482.2 481.7,482.8 482.1,483.0 482.6,484.1 483.1,484.3 483.5,482.5 484.0,482.3 484.5,482.8 484.9,483.9 485.4,481.6 485.9,482.1 486.3,483.0 486.8,480.7 487.3,481.0 487.7,483.2 488.2,482.5 488.7,481.4 489.1,479.9 489.6,482.4 490.1,482.0 490.5,482.8 491.0,483.6 491.5,483.6 492.0,482.3 492.4,481.7 492.9,482.4 493.4,483.5 493.8,483.7 494.3,482.9 494.8,483.0 495.2,484.6 495.7,484.6 496.1,483.9 496.6,486.2 497.1,485.0 497.5,483.1 498.0,484.5 498.5,485.8 498.9,484.3 499.4,485.7 499.8,483.4 500.3,484.6 500.8,486.5 501.2,485.7 501.7,486.1 502.1,484.6 502.6,485.7 503.1,486.0 503.5,485.2 504.0,486.7 504.4,486.5 504.9,488.2 505.3,487.0 505.8,486.6 506.2,485.7 506.7,486.0 507.2,488.2 507.6,486.2 508.1,486.3 508.5,486.7 509.0,488.1 509.4,489.3 509.9,488.8 510.3,489.6 510.8,487.2 511.3,487.2 511.7,489.8 512.2,488.4 512.7,489.9 513.1,488.8 513.6,488.3 514.1,488.7 514.5,488.3 515.0,491.1 515.5,490.1 515.9,489.5 516.4,489.9 516.8,489.8 517.3,488.8 517.8,491.8 518.2,490.8 518.7,492.2 519.2,490.6 519.6,491.3 520.1,490.1 520.6,489.6 521.0,492.7 521.5,492.6 521.9,490.9 522.4,493.0 522.9,492.9 523.3,491.3 523.8,492.4 524.2,493.8 524.7,492.3 525.2,494.0 525.6,491.7 526.1,492.4 526.6,493.6 527.0,492.1 527.5,492.5 527.9,494.5 528.4,493.3 528.9,494.5 529.3,492.8 529.8,492.7 530.2,493.4 530.7,492.9 531.1,495.7 531.6,493.5 532.1,494.6 532.5,493.2 533.0,494.7 533.4,494.3 533.9,494.5 534.3,493.5 534.8,493.8 535.3,495.7 535.8,493.6 536.3,492.7 536.8,492.1 537.3,491.9 537.8,491.2 538.3,490.0 538.8,489.3 539.3,485.4 539.7,482.0 540.2,481.0 540.7,476.1 541.2,475.7 541.6,476.6 542.1,473.1 542.5,473.1 543.0,473.4 543.5,473.6 544.0,471.6 544.4,472.5 544.9,473.9 545.4,473.0 545.9,476.3 546.3,475.0 546.8,478.8 547.2,478.6 547.7,479.0 548.2,479.7 548.7,478.6 549.2,480.6 549.7,479.1 550.2,481.3 550.7,480.2 551.2,479.5 551.7,479.5 552.2,481.2 552.7,480.4 553.2,483.1 553.7,481.0 554.2,482.8" fill="none" stroke="#e27b1e" stroke-width="4.4" stroke-linejoin="round" stroke-linecap="round"/>
</g>
<g clip-path="url(#clA)">
<polyline points="10.6,292.7 10.8,273.5 11.3,277.0 11.9,278.9 12.4,281.9 13.0,284.3 13.5,286.5 14.0,287.0 14.5,286.9 15.0,287.5 15.5,289.1 16.0,288.5 16.5,289.6 17.0,289.0 17.5,288.8 18.0,287.4 18.4,286.6 18.9,285.2 19.4,283.7 19.9,284.9 20.3,285.4 20.8,285.9 21.2,287.7 21.7,287.6 22.1,287.8 22.6,288.7 23.1,288.5 23.5,288.7 23.9,288.7 24.4,287.3 24.9,287.6 25.3,287.2 25.8,288.3 26.2,288.3 26.6,287.7 27.1,287.8 27.6,288.3 28.0,288.4 28.4,287.5 28.9,288.6 29.4,287.7 29.8,288.2 30.2,287.4 30.7,287.3 31.1,288.7 31.6,288.4 32.0,288.4 32.5,287.2 33.0,287.2 33.4,287.4 33.9,287.5 34.3,287.6 34.8,287.8 35.2,287.2 35.7,287.7 36.1,288.2 36.5,287.4 37.0,288.6 37.5,288.1 37.9,288.4 38.4,287.6 38.8,287.9 39.2,288.3 39.7,287.7 40.2,287.1 40.6,288.1 41.1,278.1 41.6,267.9 42.5,243.5 43.0,250.9 43.6,258.0 44.1,262.2 44.5,266.6 45.0,270.3 45.6,273.3 46.3,274.0 46.9,276.6 47.5,277.7 48.1,274.8 48.7,274.2 49.3,271.9 49.8,273.1 50.2,273.9 50.7,273.5 51.1,273.8 51.6,275.9 52.1,275.0 52.5,276.0 53.0,275.6 53.4,275.7 53.9,275.9 54.3,275.6 54.8,275.4 55.2,274.7 55.7,275.9 56.1,275.5 56.6,275.7 57.1,276.5 57.5,275.1 58.0,276.3 58.4,275.0 58.9,276.3 59.3,276.5 59.8,275.6 60.2,276.1 60.7,276.9 61.1,276.4 61.6,276.2 62.2,268.5 62.9,260.2 63.4,263.2 63.8,265.8 64.3,268.0 64.8,268.0 65.3,267.6 65.9,268.5 66.4,268.3 67.0,269.5 67.6,271.5 68.2,274.0 68.7,273.8 69.2,274.6 69.6,273.4 70.1,273.2 70.6,274.2 71.1,272.7 71.5,273.4 72.0,272.8 72.5,273.6 73.0,273.0 73.4,273.3 73.9,272.1 74.4,273.0 74.8,273.0 75.3,272.8 75.7,273.4 76.2,273.5 76.6,272.3 77.1,272.6 77.5,272.8 78.0,272.6 78.4,272.4 78.9,272.8 79.3,272.7 79.8,273.7 80.2,273.2 80.7,272.7 81.1,273.1 81.6,273.4 82.0,273.3 82.5,273.0 82.9,272.8 83.4,272.8 83.8,274.6 84.3,274.2 84.7,273.0 85.2,274.2 85.7,274.8 86.1,274.0 86.6,273.3 87.0,274.0 87.5,274.0 87.9,273.6 88.4,274.2 88.8,273.3 89.3,275.0 89.7,274.6 90.2,274.6 90.6,275.2 91.1,274.7 91.5,274.0 92.0,274.1 92.4,273.9 92.9,273.8 93.3,275.2 93.8,275.3 94.2,274.4 94.7,274.2 95.1,275.1 95.6,275.5 96.0,275.7 96.5,274.4 96.9,275.5 97.4,275.7 97.9,275.6 98.3,274.9 98.8,274.6 99.2,275.8 99.7,275.0 100.1,275.1 100.6,275.5 101.0,275.2 101.5,276.1 101.9,275.1 102.4,274.8 102.8,275.7 103.3,275.9 103.7,276.3 104.2,276.1 104.6,276.5 105.1,276.7 105.5,275.9 106.0,275.9 106.4,275.4 106.9,275.7 107.3,276.2 107.8,275.4 108.2,276.5 108.7,275.6 109.2,276.2 109.6,277.2 110.1,275.6 110.5,275.6 111.0,276.3 111.4,275.9 111.9,276.9 112.3,275.7 112.8,277.2 113.2,277.3 113.7,277.2 114.1,276.6 114.6,276.4 115.0,277.2 115.5,276.9 115.9,276.8 116.4,276.7 116.8,276.9 117.3,277.4 117.7,277.7 118.2,277.9 118.6,276.6 119.1,276.9 119.5,277.2 120.0,277.5 120.4,277.1 120.9,276.9 121.4,276.8 121.8,277.2 122.3,277.5 122.7,278.5 123.2,278.4 123.6,278.4 124.1,278.6 124.5,278.7 125.0,278.1 125.4,278.5 125.9,277.2 126.3,278.3 126.8,278.2 127.2,277.7 127.7,278.3 128.1,279.0 128.6,278.2 129.0,278.5 129.5,278.0 129.9,278.1 130.4,279.1 130.8,277.6 131.3,277.9 131.7,278.9 132.2,278.6 132.6,268.4 133.1,258.8 133.8,258.5 134.3,267.8 134.8,276.8 135.3,277.1 135.7,277.2 136.2,276.9 136.6,276.4 137.1,276.5 137.5,277.8 138.0,277.2 138.4,276.5 138.9,277.9 139.3,276.8 139.8,276.5 140.2,277.3 140.7,276.9 141.1,277.3 141.6,277.4 142.0,276.9 142.5,277.5 142.9,276.7 143.4,277.5 143.8,277.6 144.3,276.7 144.8,277.3 145.2,276.8 145.7,277.4 146.1,278.2 146.6,277.7 147.0,278.0 147.5,278.1 147.9,277.0 148.4,278.6 148.8,278.1 149.3,277.0 149.7,278.4 150.2,277.6 150.6,277.2 151.1,278.7 151.5,278.0 152.0,278.4 152.4,277.2 152.9,278.4 153.4,277.1 153.8,277.5 154.3,277.8 154.7,277.1 155.2,278.2 155.6,277.5 156.1,277.7 156.5,278.5 157.0,278.0 157.4,278.8 157.9,278.4 158.3,278.9 158.8,278.3 159.2,279.0 159.7,278.9 160.1,277.7 160.6,278.7 161.0,278.0 161.5,278.8 161.9,278.7 162.4,279.0 162.9,277.7 163.3,278.2 163.8,278.9 164.2,279.3 164.7,278.9 165.1,277.7 165.6,278.7 166.0,277.9 166.5,278.7 166.9,279.2 167.4,278.0 167.8,279.4 168.3,279.0 168.7,278.3 169.2,278.2 169.6,278.7 170.1,279.4 170.5,279.0 171.0,278.1 171.4,278.0 171.9,278.2 172.4,279.4 172.8,278.4 173.3,279.0 173.7,278.6 174.2,279.3 174.6,278.8 175.1,278.4 175.5,279.7 176.0,279.2 176.4,279.5 176.9,279.7 177.3,280.0 177.8,278.3 178.2,278.9 178.7,278.6 179.1,279.3 179.6,279.9 180.0,279.8 180.5,278.5 181.0,278.8 181.4,279.9 181.9,279.7 182.3,279.2 182.8,279.4 183.2,278.8 183.7,280.1 184.1,279.3 184.6,280.2 185.0,279.7 185.5,278.8 185.9,279.3 186.4,279.1 186.8,280.3 187.3,279.8 187.7,278.9 188.2,279.1 188.6,279.5 189.1,279.7 189.5,279.9 190.0,279.6 190.5,279.5 190.9,278.9 191.4,280.0 191.8,279.5 192.3,279.0 192.7,279.8 193.2,280.7 193.6,279.0 194.1,279.2 194.5,280.2 195.0,279.5 195.4,279.5 195.9,279.9 196.3,279.5 196.8,280.0 197.2,280.0 197.7,280.7 198.1,280.8 198.6,279.1 199.0,280.1 199.5,280.4 199.9,280.6 200.4,280.5 200.8,280.2 201.3,280.2 201.7,279.7 202.2,279.6 202.6,280.5 203.1,280.7 203.5,280.8 204.0,280.4 204.4,279.7 204.9,280.5 205.3,280.5 205.8,280.1 206.2,280.3 206.7,279.8 207.1,280.2 207.6,279.9 208.0,279.3 208.5,279.8 208.9,279.8 209.4,281.0 209.8,280.1 210.3,279.9 210.7,279.7 211.2,279.7 211.6,279.9 212.1,279.5 212.5,279.3 213.0,280.8 213.4,280.1 213.9,280.1 214.3,280.3 214.8,279.8 215.3,279.6 215.7,279.4 216.2,279.9 216.6,279.9 217.1,280.6 217.5,280.3 218.0,281.0 218.4,280.0 218.9,281.0 219.3,280.4 219.8,279.5 220.2,279.7 220.7,280.4 221.1,281.2 221.6,280.1 222.0,280.8 222.5,280.2 222.9,281.0 223.4,279.6 223.8,280.3 224.3,281.1 224.7,280.0 225.2,279.9 225.6,279.5 226.1,279.8 226.5,280.0 227.0,280.8 227.4,279.9 227.9,280.2 228.3,279.9 228.8,280.6 229.2,281.1 229.7,280.7 230.1,279.9 230.6,280.9 231.0,281.3 231.5,280.7 231.9,279.7 232.4,281.0 232.8,281.2 233.3,280.2 233.7,279.9 234.2,280.0 234.6,280.6 235.1,281.2 235.5,280.8 236.0,281.3 236.4,280.0 236.9,280.2 237.3,281.0 237.8,280.8 238.2,280.4 238.7,280.9 239.1,280.3 239.6,280.5 240.1,277.4 240.5,274.1 240.8,126.2 241.0,126.0 241.5,266.2 242.0,267.7 242.5,268.4 243.0,270.1 243.5,267.7 244.0,267.8 244.4,265.5 244.9,264.7 245.4,262.1 245.9,259.0 246.3,255.7 246.8,252.4 247.2,249.0 247.7,245.8 248.2,242.5 248.6,239.4 249.1,235.4 249.6,237.3 250.1,237.3 250.6,238.2 251.1,238.9 251.6,239.5 252.1,240.4 252.6,238.9 253.1,237.0 253.6,236.3 254.1,234.1 254.6,233.2 255.1,227.9 255.6,222.6 256.0,217.2 256.5,212.1 257.1,198.6 257.6,185.0 258.1,165.4 258.8,185.0 259.4,192.6 260.0,199.3 260.5,201.6 261.0,205.0 261.5,207.9 262.0,210.6 262.5,210.3 262.9,211.9 263.4,210.9 263.8,212.3 264.3,211.6 264.7,211.9 265.2,212.6 265.6,212.9 266.1,214.1 266.6,214.3 267.1,213.8 267.6,215.3 268.1,214.4 268.6,214.1 269.1,214.3 269.6,215.4 270.1,215.9 270.6,215.1 271.1,215.4 271.6,217.3 272.1,216.9 272.6,218.8 273.1,218.5 273.6,219.4 274.1,219.4 274.6,220.3 275.1,219.8 275.6,219.7 276.1,220.8 276.6,219.5 277.1,220.7 277.6,219.6 278.1,220.8 278.6,219.5 279.1,219.6 279.6,217.3 280.1,217.4 280.6,216.3 281.1,216.5 281.6,215.7 282.1,214.3 282.6,212.1 283.1,210.7 283.6,209.2 284.1,208.0 284.6,207.3 285.1,206.9 285.6,207.6 286.1,207.0 286.6,206.1 287.1,206.2 287.7,201.5 288.2,197.1 288.8,192.5 289.3,188.8 289.8,188.3 290.4,186.7 290.9,187.1 291.4,186.2 291.9,180.5 292.4,175.0 292.8,171.7 293.3,176.1 293.8,181.5 294.3,187.4 294.8,187.0 295.2,186.5 295.7,186.5 296.1,186.8 296.6,186.7 297.1,189.1 297.6,189.3 298.1,191.3 298.6,192.6 299.1,192.5 299.6,194.0 300.1,194.5 300.6,193.5 301.1,193.2 301.6,193.7 302.1,195.5 302.6,194.0 303.1,195.8 303.6,194.8 304.0,196.1 304.5,195.3 304.9,195.7 305.4,196.9 305.9,196.2 306.3,196.9 306.8,198.3 307.2,198.2 307.7,198.8 308.2,198.3 308.7,195.9 309.2,195.6 309.7,196.0 310.1,195.1 310.6,193.3 311.1,193.4 311.6,192.3 312.1,192.0 312.6,191.2 313.0,190.9 313.5,192.5 313.9,191.2 314.4,192.0 314.9,190.5 315.3,191.0 315.8,190.2 316.3,190.6 316.7,190.0 317.2,190.7 317.6,189.6 318.1,190.2 318.6,186.6 319.1,183.0 319.6,179.6 320.1,176.1 320.6,175.9 321.1,173.8 321.6,172.6 322.1,172.9 322.6,171.8 323.1,170.5 323.6,170.7 324.1,171.5 324.6,172.7 325.1,173.3 325.6,174.3 326.1,176.1 326.6,176.4 327.1,177.2 327.6,177.4 328.1,177.2 328.6,178.9 329.1,179.4 329.6,179.7 330.1,180.2 330.6,180.7 331.0,181.4 331.5,181.5 331.9,181.4 332.4,181.1 332.9,181.2 333.3,181.6 333.8,182.8 334.3,182.0 334.7,182.2 335.2,182.5 335.6,182.2 336.1,184.0 336.6,182.0 337.0,182.8 337.5,183.2 337.9,181.8 338.4,182.2 338.8,181.5 339.3,181.1 339.7,180.8 340.2,180.4 340.7,181.9 341.1,182.0 341.6,182.4 342.1,181.0 342.6,182.3 343.0,181.8 343.5,182.6 344.0,182.6 344.4,182.4 344.9,183.7 345.4,182.1 345.8,183.7 346.3,184.0 346.8,183.6 347.3,183.9 347.7,184.8 348.2,183.6 348.7,184.7 349.1,185.3 349.6,185.0 350.0,186.0 350.5,185.8 351.0,186.5 351.4,187.0 351.9,187.5 352.4,187.2 352.8,188.2 353.3,188.4 353.7,188.2 354.2,189.3 354.7,188.9 355.1,190.2 355.6,189.7 356.1,190.3 356.6,190.1 357.0,190.3 357.5,190.0 358.0,190.1 358.4,191.7 358.9,191.2 359.4,191.3 359.8,191.5 360.3,192.3 360.8,191.4 361.3,191.5 361.7,192.9 362.2,192.4 362.7,193.0 363.1,193.6 363.6,193.9 364.1,194.1 364.6,192.9 365.0,193.7 365.5,194.7 366.0,195.0 366.4,193.9 366.9,194.2 367.4,194.6 367.8,194.6 368.3,195.3 368.8,196.3 369.3,196.1 369.7,196.2 370.2,195.8 370.7,196.4 371.1,197.6 371.6,197.2 372.1,196.8 372.5,197.0 373.0,197.7 373.5,197.7 373.9,196.7 374.4,197.8 374.9,197.3 375.3,197.7 375.8,197.3 376.3,197.7 376.7,197.7 377.2,197.9 377.7,197.5 378.1,198.1 378.6,199.0 379.0,198.4 379.5,198.9 379.9,200.1 380.4,199.6 380.8,200.0 381.3,200.1 381.7,201.4 382.2,200.4 382.6,201.6 383.1,202.2 383.6,201.2 384.0,201.8 384.4,202.7 384.9,202.6 385.4,202.3 385.8,201.9 386.2,202.9 386.7,202.9 387.2,203.8 387.6,203.2 388.1,203.6 388.5,204.1 389.0,204.6 389.4,203.9 389.9,204.1 390.3,204.6 390.8,205.3 391.2,204.1 391.7,205.7 392.2,205.3 392.6,204.9 393.1,205.5 393.5,205.1 394.0,204.7 394.4,206.1 394.9,205.6 395.4,206.0 395.8,206.0 396.3,206.9 396.7,206.8 397.2,205.6 397.6,206.8 398.1,206.7 398.5,206.8 399.0,207.6 399.5,207.0 399.9,207.2 400.4,208.1 400.9,207.5 401.3,207.7 401.8,207.9 402.3,208.6 402.8,208.5 403.2,208.7 403.7,208.3 404.2,207.8 404.6,209.0 405.1,209.0 405.6,209.5 406.0,209.6 406.5,208.6 407.0,209.2 407.5,209.3 408.0,211.1 408.5,210.2 409.0,210.6 409.5,212.2 410.0,212.2 410.4,210.9 410.9,211.7 411.4,211.4 411.8,210.7 412.2,209.5 412.7,210.3 413.2,209.5 413.6,209.3 414.2,203.0 414.7,196.5 415.3,190.1 416.2,49.4 416.9,50.0 417.6,125.0 418.2,165.9 418.8,146.1 419.3,125.9 419.8,142.9 420.3,159.9 421.2,127.9 421.8,151.7 422.4,175.3 423.0,157.7 423.6,140.0 424.1,127.0 424.6,114.2 425.1,101.5 425.8,118.3 426.4,135.1 427.2,119.9 427.9,146.6 428.4,126.5 429.0,106.6 429.5,120.4 429.9,134.2 430.4,148.0 430.9,147.7 431.4,146.8 432.0,147.0 432.5,145.5 433.1,143.8 433.8,140.0 434.3,135.3 434.8,130.8 435.3,126.4 435.8,128.6 436.2,131.3 436.7,133.3 437.2,135.6 437.7,138.3 438.2,139.1 438.7,141.6 439.2,143.5 439.7,143.8 440.3,144.2 440.8,145.7 441.3,143.6 441.8,143.1 442.3,140.4 442.8,139.8 443.3,139.0 443.8,138.8 444.3,141.1 444.9,140.5 445.4,142.3 445.9,142.5 446.4,144.7 446.9,144.4 447.3,145.3 447.8,145.1 448.3,145.9 448.8,146.3 449.2,146.0 449.7,146.3 450.2,147.8 450.7,147.0 451.1,148.8 451.6,147.9 452.1,148.1 452.6,148.5 453.1,150.2 453.5,150.9 454.0,150.3 454.5,151.3 454.9,151.0 455.4,152.7 455.9,152.7 456.3,152.3 456.8,152.6 457.3,154.2 457.8,153.5 458.2,155.4 458.7,154.9 459.2,155.2 459.6,156.3 460.1,156.3 460.6,157.3 461.0,157.0 461.5,158.8 462.0,158.0 462.4,159.2 462.9,158.1 463.3,159.5 463.8,160.1 464.2,159.2 464.7,158.8 465.1,159.7 465.6,160.4 466.0,159.8 466.5,160.6 466.9,160.1 467.4,160.9 467.8,161.6 468.3,161.3 468.7,162.0 469.2,161.2 469.6,162.7 470.1,161.7 470.5,163.3 471.0,163.7 471.5,163.8 471.9,163.3 472.4,163.1 472.9,163.5 473.4,164.4 473.9,164.2 474.3,165.2 474.8,164.0 475.3,164.9 475.8,165.8 476.2,165.6 476.7,165.7 477.2,165.1 477.7,165.5 478.1,166.0 478.6,167.3 479.1,167.1 479.6,166.0 480.0,167.1 480.5,165.5 481.0,166.4 481.5,167.0 481.9,165.8 482.4,166.8 482.9,166.2 483.4,165.0 483.8,165.5 484.3,165.6 484.8,162.9 485.2,161.4 485.7,158.0 486.2,156.7 486.7,155.6 487.1,154.9 487.6,155.5 488.0,154.4 488.5,155.0 489.0,156.2 489.5,156.7 489.9,157.3 490.4,157.3 490.9,159.0 491.4,158.1 491.9,158.8 492.3,157.7 492.8,158.2 493.3,159.5 493.8,161.2 494.2,163.3 494.7,164.1 495.2,164.2 495.7,165.6 496.1,164.6 496.6,165.6 497.1,165.7 497.6,165.1 498.0,164.6 498.5,164.5 499.0,166.0 499.5,164.7 500.0,165.5 500.4,165.6 500.9,164.9 501.4,165.6 501.9,165.3 502.3,166.1 502.8,166.3 503.2,166.2 503.7,166.1 504.1,166.7 504.6,166.5 505.0,166.5 505.5,166.9 505.9,168.2 506.4,167.8 506.8,168.7 507.3,167.3 507.7,169.1 508.2,168.5 508.6,169.2 509.1,169.0 509.5,169.4 510.0,168.8 510.4,169.9 510.9,169.0 511.3,169.4 511.8,169.2 512.2,170.0 512.7,170.4 513.2,170.2 513.6,171.6 514.1,170.3 514.5,171.4 515.0,171.0 515.4,171.9 515.9,172.5 516.3,172.6 516.8,171.6 517.2,172.2 517.7,173.0 518.1,174.0 518.6,172.5 519.0,173.7 519.5,174.1 519.9,174.5 520.4,173.9 520.8,175.0 521.3,174.6 521.7,175.6 522.2,174.2 522.7,176.0 523.1,175.1 523.6,175.2 524.0,174.7 524.5,175.1 524.9,176.1 525.4,176.1 525.8,175.2 526.3,175.6 526.7,175.4 527.2,175.6 527.6,175.7 528.1,176.0 528.5,177.2 529.0,177.4 529.4,177.1 529.9,176.6 530.3,176.7 530.8,177.3 531.2,177.6 531.7,177.5 532.2,177.2 532.7,176.3 533.1,177.0 533.6,177.3 534.1,177.1 534.5,175.8 535.0,176.9 535.5,176.1 536.0,175.7 536.5,177.1 536.9,176.5 537.4,176.5 537.9,175.3 538.4,176.4 538.8,176.4 539.3,176.2 539.8,175.7 540.2,175.7 540.7,175.5 541.2,175.0 541.7,174.6 542.1,175.1 542.6,174.9 543.1,174.9 543.6,173.9 544.0,175.2 544.5,174.5 545.0,175.3 545.5,173.9 546.0,175.5 546.4,175.2 546.9,174.4 547.4,175.5 547.8,174.5 548.3,174.5 548.8,175.0 549.3,174.8 549.7,175.4 550.2,176.3 550.7,176.1 551.1,176.3 551.6,175.9 552.1,176.7 552.6,176.9 553.0,176.9 553.5,177.5" fill="none" stroke="#6c0000" stroke-width="4.4" stroke-linejoin="round" stroke-linecap="round"/>
</g>
<g clip-path="url(#clB)">
<polyline points="566.8,855.5 568.2,853.9 569.6,852.1 571.0,851.1 572.4,852.3 573.7,852.9 575.1,853.9 576.5,852.5 577.8,851.0 579.2,848.6 580.6,850.0 581.9,850.8 583.3,851.9 584.7,853.7 586.0,854.8 587.4,856.1 589.0,852.8 590.7,849.5 592.0,851.7 593.4,854.1 594.6,852.2 595.8,849.7 597.0,846.9 598.4,847.5 599.7,848.4 601.1,849.7 602.5,849.9 603.8,850.4 605.2,850.8 607.0,847.6 608.8,845.2 610.3,845.6 611.9,847.0 613.4,847.6 614.8,848.1 616.1,849.4 617.5,849.7 619.1,845.7 620.8,842.6 622.2,842.8 623.6,843.4 625.0,838.2 626.3,833.3 627.6,830.3 629.0,826.6 630.4,822.8 631.8,818.1 634.0,805.9 636.2,790.8 638.1,774.4 640.0,757.8 642.2,738.7 644.4,719.6 646.6,700.4 649.0,681.2 651.2,663.4 653.2,645.5 655.3,634.3 657.5,621.4 659.1,622.9 660.8,623.8 663.0,633.3 664.2,640.9 665.5,648.5 667.4,664.9 669.6,689.5 671.8,714.1 673.7,736.0 675.6,758.0 677.8,777.1 680.0,793.8 682.2,804.7 683.5,809.3 684.7,814.1 686.0,813.6 687.4,813.2 688.8,817.7 690.1,822.2 691.3,824.6 692.5,825.7 693.7,828.0 695.4,831.5 697.0,834.9 699.2,830.5 700.5,834.2 701.9,837.9 703.5,837.5 705.2,837.2 706.9,838.5 708.5,840.4 709.7,839.9 710.9,840.2 712.1,840.1 713.5,840.5 714.8,841.8 716.2,843.0 717.6,842.5 718.9,842.6 720.2,843.0 721.6,843.1 723.0,843.3 724.4,844.2 725.7,844.4 727.1,845.1 728.4,843.8 729.6,843.0 730.9,841.7 732.1,840.5 733.4,842.1 734.6,843.5 735.9,845.6 737.1,844.5 738.3,843.6 739.5,842.2 741.0,841.6 742.5,841.6 744.7,846.7 747.1,843.7 748.5,842.3 749.8,841.0 752.1,844.9 753.5,843.8 754.8,841.8 756.5,842.4 758.2,842.2 759.4,844.2 760.7,845.9 761.9,848.0 763.6,840.0 765.3,842.3 767.0,844.3 768.7,845.0 770.4,846.2 771.6,844.8 772.9,842.3 774.2,841.7 775.5,841.2 776.8,840.4 778.2,842.7 779.6,845.1 781.3,840.1 782.8,843.0 784.2,844.9 785.5,843.0 786.8,841.9 788.1,840.1 789.4,843.3 790.6,846.2 792.3,837.0 793.5,839.5 794.8,842.2 796.2,840.1 797.7,837.4 799.0,839.8 800.4,842.2 801.7,840.0 803.1,837.2 804.4,834.7 806.6,840.3 808.0,838.9 809.4,837.4 810.8,836.4 812.5,835.0 814.2,834.3 815.5,835.1 816.7,837.1 818.4,836.7 820.1,836.2 821.3,836.0 822.6,834.8 823.8,833.8 825.1,835.5 826.4,837.9 827.7,840.2 829.2,837.3 830.7,834.1 832.7,837.7 834.3,835.5 835.9,833.8 837.5,832.4 839.8,837.9 841.3,835.7 842.7,833.8 844.2,831.9 846.2,837.0 847.8,835.3 849.3,833.3 850.7,834.9 852.1,836.8 853.5,836.2 855.0,835.0 856.4,833.8 857.8,833.9 859.2,833.4 860.6,833.0 862.2,833.7 863.9,834.6 865.1,827.1 866.7,828.2 868.2,829.0 869.9,830.7 871.5,832.3 873.2,832.1 874.9,831.5 876.1,829.4 877.4,827.1 878.6,825.2 880.8,831.7 882.5,829.0 884.2,826.0 885.5,827.8 886.7,828.9 888.4,828.7 890.1,828.5 891.3,826.9 892.6,825.8 893.8,824.5 895.3,824.4 896.8,824.4 898.1,822.1 899.4,820.2 900.6,817.4 901.9,815.6 903.1,815.3 904.4,814.9 905.6,812.5 906.9,810.0 908.6,803.6 910.3,794.7 912.3,797.1 913.4,785.8 915.4,778.9 916.9,775.8 918.4,773.2 920.1,762.8 922.5,755.2 924.1,745.5 926.3,744.9 928.0,735.1 929.3,735.2 930.6,734.5 931.9,733.2 933.1,732.8 934.5,734.5 936.0,736.6 937.3,744.2 938.6,746.5 939.9,748.9 941.6,759.3 943.3,767.2 944.5,774.4 946.1,782.3 947.8,786.4 949.0,791.9 951.2,793.4 952.9,799.3 954.6,806.2 956.3,805.1 957.9,812.3 959.6,813.2 961.3,814.9 962.8,813.8 964.2,812.3 965.5,818.5 967.6,823.2 969.2,820.7 970.6,825.4 972.6,822.2 974.3,826.8 976.0,823.8 978.2,829.2 979.5,827.5 980.7,825.6 982.2,825.3 983.7,825.2 985.2,826.2 986.6,828.1 988.8,825.7 990.5,832.0 992.5,827.5 993.8,828.4 995.0,830.3 996.3,828.8 997.6,828.1 998.9,826.1 1000.1,824.6 1002.1,828.3 1004.0,833.4 1005.4,829.5 1006.8,825.5 1009.0,831.1 1011.1,834.4 1012.4,829.8 1013.6,825.2 1014.9,827.8 1016.1,829.8 1017.4,829.6 1018.7,829.2 1020.8,833.7 1022.1,831.8 1023.3,830.2 1024.6,828.9 1025.8,830.9 1027.1,832.9 1028.5,829.7 1029.9,826.7 1031.2,829.4 1032.6,832.0 1034.0,832.7 1035.5,832.9 1037.0,829.6 1038.4,826.2 1039.8,829.7 1041.1,832.7 1042.3,832.9 1043.6,832.8 1044.8,833.0 1046.5,831.1 1048.2,829.8 1049.5,828.4 1050.7,826.1 1052.0,826.7 1053.2,827.7 1054.8,826.6 1056.3,825.8 1058.6,833.3 1060.1,830.5 1061.6,827.5 1062.9,825.9 1064.2,824.6 1065.5,827.5 1066.7,829.8 1068.1,830.4 1069.5,830.6 1070.9,830.7 1072.3,827.8 1073.8,825.5 1076.0,827.1 1077.2,829.1 1078.5,831.8 1080.2,828.5 1081.5,829.1 1082.7,829.8 1084.9,825.5 1086.3,825.2 1087.8,824.2 1090.0,827.3 1092.3,824.6 1093.7,826.3 1095.0,828.5 1097.1,823.9 1098.3,824.2 1099.6,824.3 1101.8,818.2 1104.1,822.9 1106.3,822.3 1107.6,821.0 1108.9,819.2 1110.6,819.0 1112.2,819.8 1113.9,817.5 1115.6,814.8" fill="none" stroke="#0000ff" stroke-width="4.3" stroke-linejoin="round" stroke-linecap="round"/>
<polyline points="566.8,588.5 568.2,590.7 569.6,592.3 571.0,593.4 572.4,590.8 573.7,588.4 575.1,590.0 576.5,591.0 577.8,592.3 579.2,593.1 580.6,591.1 581.9,589.9 583.3,587.8 584.7,589.3 586.0,591.4 587.4,593.0 588.8,594.8 590.1,592.2 591.5,589.7 592.9,590.2 594.3,590.7 595.6,590.9 597.0,590.8 598.4,591.7 599.8,590.7 601.1,590.3 602.5,589.8 603.8,589.5 605.2,589.1 606.6,589.2 608.0,589.9 609.3,590.4 610.7,590.7 612.1,590.8 613.5,590.1 614.8,588.9 616.1,587.1 617.5,585.8 618.9,584.9 620.3,582.8 622.5,588.2 624.0,586.3 625.6,584.2 627.1,581.8 628.3,579.6 629.5,576.7 630.7,574.2 632.0,575.6 633.4,576.4 634.8,572.3 636.2,568.7 638.1,571.4 640.0,560.9 642.2,544.4 643.5,536.3 644.9,528.2 647.1,508.9 649.0,487.1 651.0,465.1 652.6,445.8 654.5,426.6 656.4,410.3 658.1,392.1 659.7,385.5 661.4,365.3 663.6,370.3 665.0,370.1 666.3,369.2 668.2,381.5 670.1,388.0 672.3,398.0 674.0,401.1 675.6,404.0 676.8,404.1 678.0,405.5 679.2,406.3 680.6,407.2 681.9,407.6 683.3,408.3 684.6,411.4 686.0,414.8 687.4,419.6 688.8,424.8 691.0,436.1 692.9,445.8 694.2,454.0 695.6,461.8 697.0,470.6 698.4,478.7 700.3,491.4 701.6,497.0 703.0,502.2 705.2,510.0 706.5,514.4 707.9,518.2 709.5,522.4 711.2,526.3 713.0,531.1 714.8,535.1 716.2,537.6 717.5,540.0 718.9,543.3 720.3,545.4 721.6,547.3 723.0,548.4 724.2,549.3 725.4,550.2 726.6,551.5 727.7,547.0 729.3,555.5 730.9,555.5 732.4,555.0 734.0,553.8 735.4,553.6 736.7,553.5 738.1,554.1 740.0,555.0 741.2,550.3 742.5,545.6 743.8,548.5 745.1,551.6 746.4,551.3 747.6,551.2 748.9,546.5 750.1,541.8 751.4,542.4 752.6,542.9 754.3,537.6 756.0,531.8 757.7,533.0 759.4,534.2 760.6,531.4 761.9,529.2 763.6,527.0 765.3,525.8 767.0,530.6 768.2,530.3 769.5,529.5 770.8,527.7 772.0,526.0 773.3,526.4 774.6,526.6 776.2,524.7 777.9,523.3 779.6,524.8 781.3,526.7 783.0,525.4 784.7,524.2 786.4,520.6 788.1,516.6 789.7,519.5 791.0,516.7 792.3,514.2 793.5,517.3 794.8,520.7 796.0,519.3 797.3,517.5 798.8,517.9 800.4,519.0 802.1,508.9 803.3,511.0 804.6,512.9 805.8,514.6 807.0,509.1 808.3,504.5 810.0,508.4 811.7,512.8 813.0,509.7 814.2,506.8 815.5,509.8 816.7,511.8 818.1,511.0 819.5,510.4 820.9,509.5 822.6,513.2 824.3,519.6 826.3,524.1 828.0,519.7 829.4,530.1 830.6,534.1 831.9,538.6 833.6,537.3 835.3,536.3 836.5,544.3 838.0,546.1 839.5,548.2 841.2,549.5 842.9,549.7 844.5,548.9 846.2,548.3 847.9,556.8 849.5,554.0 851.0,551.1 853.3,557.3 854.6,557.1 856.0,556.8 858.0,551.5 859.3,552.5 860.6,553.8 862.3,547.6 863.5,546.7 864.8,545.8 866.5,550.0 867.8,551.7 869.0,553.5 870.7,547.2 872.4,549.3 874.6,545.0 876.0,546.3 877.4,548.1 878.8,548.2 880.3,548.3 881.7,548.8 883.1,548.0 884.5,546.5 885.9,544.7 887.1,546.3 888.4,547.1 890.1,550.2 891.8,543.5 893.5,544.5 895.1,545.7 896.4,543.9 897.7,542.5 899.4,537.7 900.8,539.1 902.2,539.7 903.6,533.3 904.9,532.2 906.1,532.3 906.9,527.7 908.6,528.9 910.3,529.7 912.0,523.2 913.2,519.0 914.5,514.8 916.2,514.2 917.9,503.5 919.6,489.7 921.8,492.4 923.0,480.7 924.2,476.7 925.5,472.3 927.2,460.2 928.5,457.0 929.7,454.9 931.4,445.3 932.6,441.2 934.8,442.0 936.2,439.8 937.7,437.7 939.9,438.2 941.6,445.4 943.3,453.1 945.3,447.3 946.5,450.3 947.8,453.9 949.1,450.9 950.4,448.9 952.0,452.7 953.3,447.7 954.6,442.7 956.3,450.0 957.5,452.1 958.8,454.7 960.0,455.0 961.3,455.6 962.5,458.7 963.8,461.1 965.9,466.8 967.4,469.3 968.9,472.0 970.6,477.1 972.6,474.8 974.0,481.9 975.3,489.5 976.8,488.4 978.2,488.3 979.5,490.7 980.7,492.4 982.0,495.0 983.2,498.1 984.7,497.1 986.1,496.5 987.5,500.6 988.8,504.0 990.2,501.7 991.7,499.9 993.0,501.8 994.2,503.9 995.9,504.1 997.6,503.8 999.2,505.8 1000.9,508.1 1002.4,509.5 1004.0,511.1 1005.5,512.1 1007.7,507.1 1009.4,506.7 1011.1,506.9 1012.4,508.6 1013.6,510.6 1015.0,508.8 1016.4,506.9 1017.8,504.2 1019.3,506.8 1020.8,508.7 1022.2,506.4 1023.5,504.2 1024.9,502.8 1026.2,504.0 1027.5,505.3 1028.8,507.0 1030.1,503.8 1031.3,499.8 1032.6,496.1 1034.1,499.0 1035.7,502.5 1037.2,505.8 1038.7,502.3 1040.1,499.3 1041.6,500.8 1043.1,502.2 1044.8,497.0 1046.5,490.9 1048.0,491.4 1049.5,491.9 1051.0,490.7 1052.4,489.1 1054.1,492.9 1055.8,486.4 1057.0,485.0 1058.3,483.3 1060.0,478.0 1061.7,476.4 1063.3,474.9 1064.6,474.2 1065.8,473.1 1067.1,472.8 1068.4,472.4 1069.7,472.2 1071.0,472.2 1072.2,471.6 1073.5,471.8 1074.7,471.1 1076.0,470.7 1077.2,470.9 1078.5,472.8 1079.7,473.8 1081.0,475.2 1082.3,474.9 1083.6,475.0 1084.8,478.8 1086.1,482.7 1087.8,484.1 1089.5,485.0 1090.8,490.4 1092.0,495.1 1093.2,493.1 1094.5,490.4 1095.8,492.4 1097.1,493.3 1098.8,495.8 1100.4,498.4 1101.8,499.4 1103.3,499.7 1104.7,500.6 1106.8,505.5 1108.9,497.5 1110.6,500.8 1112.2,503.3 1113.9,502.6 1115.6,501.0" fill="none" stroke="#e27b1e" stroke-width="4.3" stroke-linejoin="round" stroke-linecap="round"/>
<polyline points="567.1,313.9 568.2,314.3 569.2,313.9 570.3,313.8 571.4,313.7 572.4,313.8 573.5,313.3 574.6,313.4 575.6,313.2 576.7,313.5 577.8,313.0 578.8,313.2 579.9,313.0 580.9,313.0 581.9,313.1 582.9,313.2 584.0,312.7 585.0,312.6 586.0,312.4 587.0,312.9 588.0,312.5 589.0,312.3 590.0,312.4 591.1,312.5 592.1,312.7 593.1,312.2 594.1,312.0 595.1,311.9 596.1,312.0 597.2,311.9 598.2,311.8 599.2,312.0 600.2,311.9 601.2,311.9 602.3,312.0 603.3,311.4 604.3,311.6 605.3,311.3 606.4,310.8 607.4,311.2 608.4,310.7 609.4,310.3 610.5,310.3 611.5,310.2 612.5,310.5 613.5,310.5 614.6,310.1 615.6,309.9 616.6,309.9 617.6,309.8 618.7,309.6 619.7,309.3 620.8,308.7 621.9,308.3 622.9,308.3 624.0,308.0 625.1,307.9 626.1,307.7 627.2,307.5 628.3,306.7 629.3,305.7 630.4,305.4 631.4,304.7 632.4,303.6 633.5,303.2 634.5,302.3 635.5,300.9 636.6,299.7 637.6,298.6 638.7,297.5 639.7,295.8 640.8,293.7 641.8,291.3 642.9,288.7 643.9,286.3 645.1,281.7 646.4,276.4 647.6,271.8 648.8,265.8 650.1,259.8 651.3,253.6 652.5,242.1 653.8,230.7 654.9,218.0 656.1,205.1 657.2,190.8 658.4,176.6 659.4,163.8 660.4,151.0 661.4,138.2 662.4,125.5 663.5,114.0 664.6,102.9 666.0,96.3 667.5,90.0 668.5,88.4 669.5,86.3 671.0,88.3 672.4,90.4 673.8,93.6 675.2,96.5 676.7,99.4 678.1,102.5 679.5,101.8 680.9,100.9 682.0,100.0 683.0,99.1 684.1,97.8 685.2,96.4 686.2,96.3 687.3,96.0 688.4,95.6 689.4,95.5 690.5,96.6 691.7,98.4 692.8,102.4 694.0,106.7 695.1,111.5 696.5,117.9 698.0,124.2 699.4,133.3 700.8,142.6 702.2,151.2 703.7,159.7 705.1,168.1 706.5,176.8 708.0,184.4 709.4,192.1 710.8,199.6 712.2,206.6 713.6,212.9 715.0,219.1 716.5,224.6 717.9,230.0 719.1,233.7 720.4,238.0 721.6,242.2 722.7,244.8 723.9,247.4 725.0,250.1 726.1,252.2 727.1,254.6 728.2,256.2 729.3,258.3 730.3,259.3 731.4,260.6 732.5,262.0 733.5,262.4 734.6,262.6 735.6,263.5 736.7,264.1 737.8,263.9 738.9,263.6 740.1,263.4 741.2,263.0 742.4,262.8 743.5,262.5 744.5,261.9 745.5,261.1 746.6,260.5 747.6,260.0 748.7,259.0 749.9,258.4 751.0,257.7 752.2,256.5 753.3,255.9 754.5,254.5 755.6,252.8 756.8,251.4 758.0,249.8 759.2,248.1 760.4,245.8 761.6,243.3 762.8,241.0 763.9,239.1 765.1,236.8 766.2,234.7 767.4,232.2 768.5,230.3 769.7,228.5 770.9,226.1 772.0,224.4 773.2,222.3 774.4,220.9 775.6,219.4 776.8,217.8 778.0,215.7 779.1,214.7 780.2,214.3 781.4,213.6 782.5,212.5 783.6,211.7 784.7,211.0 785.8,209.8 787.0,209.1 788.1,208.0 789.2,207.0 790.3,206.1 791.4,206.0 792.4,205.9 793.5,205.2 794.5,205.2 795.6,204.7 796.7,204.4 797.7,204.4 798.8,204.2 800.2,205.3 801.7,206.6 802.8,206.2 804.0,206.0 805.1,206.2 806.3,205.9 807.4,205.7 808.6,204.6 809.8,203.9 810.9,203.0 812.1,201.9 813.3,201.0 814.5,199.9 815.7,198.5 816.9,197.3 818.1,198.3 819.4,198.7 820.6,199.7 822.0,203.2 823.5,206.9 824.9,212.3 826.3,217.4 827.8,223.1 829.2,228.5 830.6,233.5 832.0,238.4 833.5,242.5 834.9,247.0 836.2,249.9 837.4,252.7 838.7,255.8 840.0,257.7 841.2,259.7 842.5,261.2 843.7,262.1 844.9,263.3 846.0,264.5 847.2,265.5 848.3,266.2 849.5,266.4 850.6,266.9 851.8,267.4 852.9,268.1 854.0,268.1 855.0,267.8 856.1,267.6 857.1,267.8 858.2,267.9 859.3,267.6 860.3,267.0 861.4,267.0 862.5,267.3 863.6,267.2 864.7,267.1 865.7,267.8 866.8,268.1 867.9,267.8 869.0,267.9 870.1,267.9 871.1,267.6 872.2,267.2 873.2,267.5 874.3,267.5 875.3,267.2 876.4,266.7 877.4,266.7 878.5,266.3 879.6,266.8 880.6,266.2 881.7,266.1 882.7,266.3 883.8,265.9 884.8,265.7 885.9,265.5 886.9,265.4 888.0,265.6 889.1,265.7 890.2,265.2 891.3,264.9 892.3,265.1 893.4,264.9 894.5,264.6 895.6,264.3 896.7,263.8 897.8,263.7 898.9,262.8 900.0,262.2 901.1,262.0 902.2,261.7 903.3,260.9 904.5,259.8 905.6,259.1 906.8,258.1 907.9,256.9 909.1,256.4 910.3,256.0 911.5,255.5 912.7,254.5 914.0,252.8 915.2,251.8 916.5,249.8 917.8,247.0 919.0,243.6 920.3,240.3 921.7,236.0 923.1,231.9 924.5,226.6 926.0,220.5 927.4,213.7 928.8,206.3 930.2,198.9 931.7,192.2 933.1,185.4 934.5,178.5 935.8,174.4 937.1,170.5 938.5,168.2 939.9,165.7 941.3,164.8 942.8,164.7 944.2,163.5 945.6,162.4 946.9,164.3 948.1,165.6 949.1,165.6 950.2,165.6 951.2,165.1 952.3,164.9 953.5,164.1 954.6,163.4 955.8,162.7 957.0,161.8 958.2,161.7 959.4,162.1 960.5,161.8 961.7,161.8 963.0,162.6 964.2,163.1 965.5,163.2 967.4,167.4 968.8,169.5 970.3,171.7 971.6,174.7 972.8,177.9 974.1,181.1 975.4,184.2 976.6,187.8 977.9,191.2 979.1,194.0 980.2,196.2 981.4,199.0 982.6,201.5 983.8,204.4 985.0,206.8 986.2,209.6 987.4,212.3 988.5,214.3 989.7,215.7 990.8,218.0 992.0,219.9 993.1,221.7 994.3,222.7 995.5,223.2 996.6,224.5 997.8,225.4 998.9,226.1 1000.1,226.7 1001.2,227.7 1002.4,228.6 1003.5,229.5 1004.6,229.3 1005.8,229.5 1006.9,229.6 1008.1,229.8 1009.2,230.1 1010.3,230.0 1011.5,230.5 1012.6,230.3 1013.8,230.2 1014.9,230.1 1016.2,230.2 1017.4,229.6 1018.7,229.4 1019.8,229.4 1021.0,229.8 1022.1,230.0 1023.3,229.7 1024.4,229.8 1025.5,229.6 1026.7,229.0 1027.8,228.9 1029.0,228.5 1030.1,227.8 1031.2,227.4 1032.3,226.7 1033.4,225.7 1034.5,225.2 1035.6,224.9 1036.7,224.1 1037.8,223.4 1038.9,222.7 1040.0,222.4 1041.1,221.7 1042.2,220.7 1043.3,220.1 1044.4,218.8 1045.5,218.1 1046.7,216.8 1047.8,215.2 1048.9,214.4 1050.0,212.8 1051.2,210.8 1052.3,208.6 1053.5,206.7 1054.7,204.4 1056.0,201.6 1057.2,199.3 1058.5,197.1 1059.8,194.0 1061.0,190.6 1062.3,187.2 1063.6,184.6 1064.8,181.9 1066.1,178.7 1067.5,176.2 1069.0,173.5 1070.4,171.3 1071.8,169.3 1073.2,169.4 1074.7,169.7 1075.9,170.2 1077.2,171.1 1078.4,172.0 1079.8,175.1 1081.3,177.7 1082.6,181.0 1083.8,184.2 1085.1,187.5 1086.4,190.4 1087.6,194.0 1088.9,197.4 1090.2,200.0 1091.4,202.9 1092.7,205.3 1093.9,207.9 1095.1,210.1 1096.2,212.5 1097.4,214.9 1098.6,216.4 1099.8,218.6 1101.0,220.1 1102.2,221.7 1103.4,222.7 1104.6,223.7 1105.7,224.6 1106.9,225.4 1108.1,225.6 1109.3,226.2 1110.5,226.5 1111.7,226.6 1112.9,227.3 1114.2,228.0 1115.4,228.2" fill="none" stroke="#6c0000" stroke-width="4.1" stroke-linejoin="round" stroke-linecap="round"/>
</g>
<g clip-path="url(#clC)">
<polyline points="1131.5,867.0 1136.8,864.0 1144.2,861.1 1153.0,859.0 1163.3,853.7 1170.7,853.7 1175.1,850.1 1184.0,847.8 1195.8,844.2 1206.1,841.9 1210.5,842.8 1213.5,837.5 1220.9,837.5 1224.7,834.5 1227.7,836.9 1234.1,831.6 1243.0,827.1 1246.5,823.6 1249.5,825.7 1251.8,820.6 1254.8,821.2 1262.2,815.3 1266.6,808.8 1270.1,805.0 1274.0,805.9 1279.9,797.6 1284.6,792.5 1289.5,784.7 1293.1,783.4 1297.9,778.4 1301.1,772.4 1305.3,770.3 1308.5,766.1 1312.7,759.4 1315.9,756.6 1318.4,750.3 1321.1,748.2 1323.9,744.0 1326.8,740.4 1329.6,733.4 1332.7,727.1 1335.9,719.7 1339.1,713.4 1342.2,707.0 1344.3,701.8 1345.8,697.6 1348.6,693.3 1350.0,685.9 1351.7,681.7 1354.3,678.6 1356.4,670.1 1359.1,666.5 1362.3,661.7 1364.8,651.8 1367.6,646.9 1370.3,641.2 1373.2,637.4 1376.0,630.7 1378.7,625.8 1381.7,624.8 1384.4,621.6 1387.2,623.1 1390.1,620.1 1393.5,618.6 1397.1,619.5 1401.7,621.5 1404.6,620.6 1408.2,626.0 1412.6,629.5 1418.5,633.9 1424.2,639.1 1428.6,648.7 1432.7,651.2 1437.6,658.4 1442.4,666.9 1448.5,676.6 1452.1,680.2 1456.9,687.0 1461.8,690.4 1464.9,694.8 1468.3,695.5 1473.9,701.6 1478.8,704.5 1482.4,705.2 1484.3,709.3 1487.7,706.2 1492.1,710.0 1495.0,708.6 1498.1,711.3 1501.3,710.5 1504.2,713.0 1507.1,713.0 1509.5,714.9 1511.9,713.4 1515.8,715.4 1518.7,714.9 1522.4,716.6 1525.5,716.6 1528.4,720.2 1532.1,721.0 1536.9,721.4 1541.7,721.4 1545.4,724.6 1548.3,727.0 1553.1,725.1 1556.3,730.4 1559.2,728.0 1562.3,731.6 1565.3,731.6 1570.8,736.7 1575.7,737.2 1581.2,739.6 1584.2,743.2 1587.1,743.2 1590.2,745.7 1593.8,746.4 1599.9,751.2 1606.0,753.7 1609.1,757.8 1612.0,756.1 1615.2,759.5 1620.0,757.8 1624.1,761.4 1628.3,764.3 1633.8,765.1 1637.9,763.8 1641.6,766.8 1644.7,766.8 1648.4,769.9 1652.0,770.4 1656.4,769.2 1660.5,771.1 1664.6,769.9 1670.2,772.8 1677.4,774.7 1683.0,774.3" fill="none" stroke="#0000ff" stroke-width="4.0" stroke-linejoin="round" stroke-linecap="round"/>
<polyline points="1132.1,583.1 1135.6,571.0 1138.8,581.1 1141.4,583.9 1144.1,586.1 1146.6,581.4 1149.6,569.3 1152.3,585.6 1155.0,575.5 1157.5,587.8 1160.4,582.8 1163.4,586.1 1166.0,567.6 1168.8,563.2 1171.7,590.7 1174.4,584.8 1176.9,567.9 1179.8,588.5 1182.7,591.5 1185.7,595.4 1188.2,587.8 1191.1,574.7 1193.6,591.2 1196.3,582.8 1199.2,577.2 1202.1,583.9 1204.8,595.4 1207.6,580.6 1210.5,573.3 1213.0,575.5 1216.1,578.9 1218.9,580.6 1221.5,593.6 1224.2,579.4 1227.0,576.4 1229.9,589.8 1232.4,575.0 1235.1,583.4 1238.0,563.2 1240.9,574.7 1243.6,582.3 1246.4,574.7 1249.3,562.9 1252.0,575.2 1254.8,565.4 1257.4,544.3 1260.2,561.2 1262.9,565.4 1265.8,560.8 1268.3,564.6 1271.2,558.1 1273.9,550.7 1276.8,557.8 1279.3,541.3 1282.2,553.3 1285.2,546.0 1287.7,526.1 1290.6,535.9 1293.3,533.9 1296.2,538.4 1299.0,530.8 1301.7,540.6 1304.3,517.0 1307.1,518.2 1310.0,507.2 1313.0,514.4 1315.8,510.9 1318.6,492.4 1321.4,495.8 1324.1,497.7 1326.9,483.1 1329.7,471.5 1332.5,477.3 1335.0,480.3 1337.8,466.4 1340.6,470.3 1343.4,465.0 1345.9,450.6 1348.5,438.6 1351.3,445.5 1354.0,440.2 1357.0,441.4 1359.8,443.2 1362.6,425.1 1365.2,408.9 1368.2,421.7 1370.9,419.4 1373.5,400.1 1376.5,399.7 1379.1,392.7 1381.8,389.7 1384.6,390.4 1387.4,380.0 1390.2,371.8 1393.0,364.9 1395.7,366.7 1398.5,360.7 1401.3,349.4 1404.1,353.3 1406.9,354.5 1409.7,369.5 1412.2,351.0 1414.8,338.2 1417.5,356.3 1420.3,353.8 1423.1,349.4 1425.9,357.9 1428.7,347.5 1431.7,363.0 1434.7,339.9 1437.5,346.3 1440.5,355.2 1443.3,355.6 1445.6,343.6 1448.6,342.4 1450.9,368.4 1453.7,355.6 1456.5,368.4 1459.5,359.1 1462.3,386.9 1464.8,376.5 1467.6,380.0 1470.4,368.8 1473.4,383.0 1476.2,391.1 1479.2,392.2 1482.0,386.9 1484.5,381.1 1487.3,412.4 1490.1,405.4 1492.6,413.1 1494.9,399.2 1497.9,440.2 1500.7,426.8 1503.6,430.6 1506.4,431.8 1509.2,419.4 1512.7,423.0 1515.2,430.6 1520.3,435.6 1523.1,430.6 1525.7,422.7 1528.5,431.8 1531.4,438.8 1534.4,437.5 1537.0,417.3 1539.5,431.2 1542.4,428.0 1545.3,420.7 1548.1,428.7 1550.6,442.6 1553.8,441.3 1556.3,435.0 1559.2,454.3 1562.0,436.3 1564.5,446.4 1567.3,435.0 1570.5,436.9 1573.1,445.5 1575.9,441.9 1578.7,443.8 1581.6,443.2 1584.1,438.4 1586.7,453.3 1589.6,445.1 1592.3,458.4 1595.1,443.8 1598.0,441.3 1600.6,440.1 1603.3,446.4 1606.0,452.1 1608.8,445.7 1611.6,441.9 1614.5,448.9 1617.1,471.3 1619.9,459.6 1622.7,447.6 1625.8,456.5 1628.4,454.6 1631.2,441.6 1633.8,471.7 1636.6,447.3 1639.4,454.6 1641.9,462.2 1644.8,458.4 1647.7,457.1 1650.2,466.0 1653.0,454.2 1655.8,473.6 1658.7,470.4 1661.6,473.8 1664.2,465.3 1666.9,479.9 1669.7,458.4 1672.6,456.5 1675.1,472.5 1677.9,454.0 1680.6,484.3 1682.7,476.1 1684.0,457.1" fill="none" stroke="#e27b1e" stroke-width="4.0" stroke-linejoin="round" stroke-linecap="round"/>
</g>
<g clip-path="url(#clCr)">
<polyline points="1132.0,266.8 1132.8,274.4 1135.7,248.4 1138.3,266.8 1140.8,264.9 1144.0,261.1 1146.7,282.6 1149.3,250.3 1152.2,263.0 1155.1,253.1 1157.6,270.6 1160.4,280.7 1162.7,300.3 1165.7,290.8 1168.6,315.4 1171.5,286.6 1174.6,305.3 1177.2,293.1 1180.0,300.9 1182.5,316.7 1185.4,303.4 1188.2,311.0 1191.0,296.5 1193.9,300.9 1196.4,301.5 1199.0,318.6 1202.1,323.7 1204.6,295.9 1207.4,318.6 1210.3,307.9 1212.9,323.0 1215.8,318.0 1218.6,324.3 1221.5,305.3 1224.2,316.1 1224.9,334.0 1228.0,334.0 1229.7,314.8 1232.2,334.0 1235.0,314.2 1237.5,334.0 1240.3,322.4 1243.2,334.0 1246.1,308.5 1248.9,334.0 1252.1,327.5 1254.6,319.9 1257.4,285.1 1260.3,307.2 1263.1,290.4 1265.6,312.3 1268.2,290.2 1270.4,334.0 1272.3,334.0 1274.2,306.6 1279.5,310.4 1282.0,297.1 1284.9,295.5 1288.1,299.4 1290.6,288.3 1293.5,281.3 1296.3,295.9 1299.1,273.1 1302.0,277.5 1304.5,285.7 1307.7,282.6 1309.6,249.1 1313.0,246.3 1315.5,290.8 1318.4,268.0 1321.0,240.9 1323.7,239.4 1326.7,232.8 1332.2,206.2 1334.7,235.6 1337.5,207.1 1340.4,242.8 1343.2,193.3 1348.9,211.5 1351.4,198.6 1354.2,204.3 1357.1,183.4 1359.7,179.1 1362.6,193.9 1365.4,196.7 1368.3,187.2 1371.1,179.6 1373.6,161.6 1376.4,192.0 1378.7,162.9 1381.7,182.5 1384.4,163.5 1387.4,175.8 1392.5,163.1 1395.8,148.9 1401.5,166.9 1404.3,138.8 1406.8,140.7 1409.6,175.4 1412.5,163.5 1415.3,139.8 1417.8,141.1 1420.4,151.2 1423.5,141.7 1426.1,125.5 1429.0,119.8 1431.4,130.3 1434.3,147.4 1437.1,119.5 1440.0,120.2 1442.8,131.2 1445.7,125.2 1448.5,128.4 1451.4,135.0 1453.8,118.0 1456.5,114.5 1459.3,139.2 1462.2,122.7 1464.6,108.5 1467.9,120.2 1470.3,115.7 1473.2,108.5 1476.0,125.5 1478.5,141.7 1484.2,136.9 1486.9,151.7 1489.7,155.0 1492.5,144.9 1495.4,151.2 1498.2,152.1 1500.7,169.2 1503.5,178.3 1506.4,170.7 1509.0,182.5 1512.1,164.9 1514.9,193.4 1517.8,158.4 1520.6,175.0 1523.1,183.5 1525.7,167.9 1528.6,192.0 1531.4,178.7 1534.3,164.9 1537.1,193.0 1539.6,200.6 1542.4,204.4 1545.3,173.6 1548.1,186.3 1552.9,195.8 1556.1,208.2 1558.9,189.2 1561.8,192.0 1564.3,190.7 1567.1,209.7 1572.8,187.7 1575.6,199.1 1578.5,204.4 1581.7,193.0 1584.2,195.8 1587.0,195.8 1589.5,167.4 1592.2,182.5 1595.0,183.1 1597.8,220.5 1600.3,204.0 1603.2,228.7 1606.0,191.1 1608.5,195.3 1614.2,193.0 1617.0,205.3 1619.9,184.4 1622.5,178.2 1625.4,202.5 1628.2,196.8 1631.1,211.6 1634.5,207.8 1636.4,181.6 1639.2,173.6 1642.1,190.1 1644.5,169.8 1647.4,214.2 1650.2,187.7 1652.9,187.7 1658.6,211.0 1661.4,192.6 1666.7,207.2 1670.5,200.6 1674.7,186.3 1677.7,205.7 1680.4,178.2 1682.9,177.8" fill="none" stroke="#6c0000" stroke-width="4.0" stroke-linejoin="round" stroke-linecap="round"/>
</g>
<path d="M248.7 151V169M333.7 151V169M248.7 159.5H333.7" fill="none" stroke="#b9b9b9" stroke-width="2.5"/>
<text transform="translate(13.62 39.90) scale(1.0072 1)" font-family="Liberation Sans, Arial, Helvetica, sans-serif" text-rendering="geometricPrecision" font-size="48.76" font-weight="bold" fill="#000">A</text>
<text transform="translate(572.86 36.30) scale(0.9431 1)" font-family="Liberation Sans, Arial, Helvetica, sans-serif" text-rendering="geometricPrecision" font-size="48.40" font-weight="bold" fill="#000">B</text>
<text transform="translate(1146.00 38.50) scale(0.9214 1)" font-family="Liberation Sans, Arial, Helvetica, sans-serif" text-rendering="geometricPrecision" font-size="48.84" font-weight="bold" fill="#000">C</text>
<text transform="translate(1.80 906.17) scale(0.9281 1)" font-family="Liberation Sans, Arial, Helvetica, sans-serif" text-rendering="geometricPrecision" font-size="29.57" font-weight="normal" fill="#000" stroke="#fff" stroke-width="0.55">0</text>
<text transform="translate(203.45 906.17) scale(0.9099 1)" font-family="Liberation Sans, Arial, Helvetica, sans-serif" text-rendering="geometricPrecision" font-size="29.57" font-weight="normal" fill="#000" stroke="#fff" stroke-width="0.55">500</text>
<text transform="translate(413.20 906.17) scale(0.9297 1)" font-family="Liberation Sans, Arial, Helvetica, sans-serif" text-rendering="geometricPrecision" font-size="29.57" font-weight="normal" fill="#000" stroke="#fff" stroke-width="0.55">1000</text>
<text transform="translate(614.63 906.38) scale(0.9269 1)" font-family="Liberation Sans, Arial, Helvetica, sans-serif" text-rendering="geometricPrecision" font-size="29.57" font-weight="normal" fill="#000" stroke="#fff" stroke-width="0.55">930</text>
<text transform="translate(751.34 906.38) scale(0.9184 1)" font-family="Liberation Sans, Arial, Helvetica, sans-serif" text-rendering="geometricPrecision" font-size="29.57" font-weight="normal" fill="#000" stroke="#fff" stroke-width="0.55">940</text>
<text transform="translate(890.43 906.38) scale(0.9248 1)" font-family="Liberation Sans, Arial, Helvetica, sans-serif" text-rendering="geometricPrecision" font-size="29.57" font-weight="normal" fill="#000" stroke="#fff" stroke-width="0.55">950</text>
<text transform="translate(1026.74 906.38) scale(0.9163 1)" font-family="Liberation Sans, Arial, Helvetica, sans-serif" text-rendering="geometricPrecision" font-size="29.57" font-weight="normal" fill="#000" stroke="#fff" stroke-width="0.55">960</text>
<text transform="translate(1108.42 906.38) scale(0.9267 1)" font-family="Liberation Sans, Arial, Helvetica, sans-serif" text-rendering="geometricPrecision" font-size="29.72" font-weight="normal" fill="#000" stroke="#fff" stroke-width="0.55">560</text>
<text transform="translate(1384.83 906.38) scale(0.9204 1)" font-family="Liberation Sans, Arial, Helvetica, sans-serif" text-rendering="geometricPrecision" font-size="29.72" font-weight="normal" fill="#000" stroke="#fff" stroke-width="0.55">570</text>
<text transform="translate(1658.03 906.38) scale(0.9183 1)" font-family="Liberation Sans, Arial, Helvetica, sans-serif" text-rendering="geometricPrecision" font-size="29.72" font-weight="normal" fill="#000" stroke="#fff" stroke-width="0.55">580</text>
<text font-family="Liberation Sans, Arial, Helvetica, sans-serif" text-rendering="geometricPrecision" font-weight="normal" fill="#000" stroke="#000" stroke-linejoin="round"><tspan x="148.60" y="935.70" font-size="29.36" textLength="108.22" lengthAdjust="spacingAndGlyphs" stroke-width="1.20">Binding</tspan> <tspan x="266.36" y="935.70" font-size="29.36" textLength="95.14" lengthAdjust="spacingAndGlyphs" stroke-width="1.20">energy</tspan> <tspan x="371.97" y="935.70" font-size="29.36" textLength="57.65" lengthAdjust="spacingAndGlyphs" stroke-width="1.20">(eV)</tspan></text>
<text font-family="Liberation Sans, Arial, Helvetica, sans-serif" text-rendering="geometricPrecision" font-weight="normal" fill="#000" stroke="#000" stroke-linejoin="round"><tspan x="707.60" y="939.20" font-size="29.22" textLength="108.22" lengthAdjust="spacingAndGlyphs" stroke-width="1.20">Binding</tspan> <tspan x="825.36" y="939.20" font-size="29.22" textLength="95.14" lengthAdjust="spacingAndGlyphs" stroke-width="1.20">energy</tspan> <tspan x="930.97" y="939.20" font-size="29.22" textLength="57.65" lengthAdjust="spacingAndGlyphs" stroke-width="1.20">(eV)</tspan></text>
<text font-family="Liberation Sans, Arial, Helvetica, sans-serif" text-rendering="geometricPrecision" font-weight="normal" fill="#000" stroke="#000" stroke-linejoin="round"><tspan x="1281.40" y="936.10" font-size="28.92" textLength="108.22" lengthAdjust="spacingAndGlyphs" stroke-width="1.20">Binding</tspan> <tspan x="1399.16" y="936.10" font-size="28.92" textLength="95.14" lengthAdjust="spacingAndGlyphs" stroke-width="1.20">energy</tspan> <tspan x="1504.77" y="936.10" font-size="28.92" textLength="57.65" lengthAdjust="spacingAndGlyphs" stroke-width="1.20">(eV)</tspan></text>
<text font-family="Liberation Sans, Arial, Helvetica, sans-serif" text-rendering="geometricPrecision" font-weight="normal" fill="#6c0000" stroke="#6c0000" stroke-linejoin="round"><tspan x="430.90" y="212.70" font-size="30.23" textLength="103.50" lengthAdjust="spacingAndGlyphs" stroke-width="1.00">Cu(OH)</tspan><tspan x="535.30" y="219.60" font-size="19.29" textLength="11.12" lengthAdjust="spacingAndGlyphs" stroke-width="0.80">2</tspan></text>
<text font-family="Liberation Sans, Arial, Helvetica, sans-serif" text-rendering="geometricPrecision" font-weight="normal" fill="#e27b1e" stroke="#e27b1e" stroke-linejoin="round"><tspan x="374.00" y="530.40" font-size="29.94" textLength="103.29" lengthAdjust="spacingAndGlyphs" stroke-width="1.00">Cu(OH)</tspan><tspan x="478.08" y="537.70" font-size="19.00" textLength="11.36" lengthAdjust="spacingAndGlyphs" stroke-width="0.80">2</tspan><tspan x="490.30" y="530.40" font-size="29.94" textLength="55.76" lengthAdjust="spacingAndGlyphs" stroke-width="1.00">/GG</tspan></text>
<text transform="translate(453.70 798.10) scale(0.9899 1)" font-family="Liberation Sans, Arial, Helvetica, sans-serif" text-rendering="geometricPrecision" font-size="30.23" font-weight="normal" fill="#0000ff" stroke="#0000ff" stroke-width="1.00" stroke-linejoin="round">Cu/GG</text>
<text transform="translate(247.34 144.28) scale(0.9661 1)" font-family="Liberation Sans, Arial, Helvetica, sans-serif" text-rendering="geometricPrecision" font-size="28.64" font-weight="normal" fill="#000" stroke="#fff" stroke-width="0.55">Cu LMM</text>
<text transform="translate(54.48 239.44) rotate(-90) scale(0.8961 1)" font-family="Liberation Sans, Arial, Helvetica, sans-serif" text-rendering="geometricPrecision" font-size="30.36" font-weight="normal" fill="#000" stroke="#fff" stroke-width="0.55">Cu 3p</text>
<text transform="translate(65.38 531.38) rotate(-90) scale(0.8459 1)" font-family="Liberation Sans, Arial, Helvetica, sans-serif" text-rendering="geometricPrecision" font-size="30.93" font-weight="normal" fill="#000" stroke="#fff" stroke-width="0.55">Cu 3s</text>
<text transform="translate(144.08 632.04) rotate(-90) scale(0.8287 1)" font-family="Liberation Sans, Arial, Helvetica, sans-serif" text-rendering="geometricPrecision" font-size="30.50" font-weight="normal" fill="#000" stroke="#fff" stroke-width="0.55">C 1s</text>
<text transform="translate(190.38 770.03) rotate(-90) scale(0.9047 1)" font-family="Liberation Sans, Arial, Helvetica, sans-serif" text-rendering="geometricPrecision" font-size="29.78" font-weight="normal" fill="#000" stroke="#fff" stroke-width="0.55">N1s</text>
<text transform="translate(252.68 598.24) rotate(-90) scale(0.8745 1)" font-family="Liberation Sans, Arial, Helvetica, sans-serif" text-rendering="geometricPrecision" font-size="30.49" font-weight="normal" fill="#000" stroke="#fff" stroke-width="0.55">O 1s</text>
<text transform="translate(431.07 728.93) rotate(-90) scale(0.8694 1)" font-family="Liberation Sans, Arial, Helvetica, sans-serif" text-rendering="geometricPrecision" font-size="31.07" font-weight="normal" fill="#000" stroke="#fff" stroke-width="0.55">Cu2p</text>
<text transform="translate(1421.77 101.68) scale(0.8935 1)" font-family="Liberation Sans, Arial, Helvetica, sans-serif" text-rendering="geometricPrecision" font-size="29.57" font-weight="normal" fill="#000" stroke="#fff" stroke-width="0.55">571.9</text>
<text transform="translate(1389.67 332.97) scale(0.9103 1)" font-family="Liberation Sans, Arial, Helvetica, sans-serif" text-rendering="geometricPrecision" font-size="28.87" font-weight="normal" fill="#000" stroke="#fff" stroke-width="0.55">570.5</text>
<text transform="translate(1359.67 608.88) scale(0.8889 1)" font-family="Liberation Sans, Arial, Helvetica, sans-serif" text-rendering="geometricPrecision" font-size="29.57" font-weight="normal" fill="#000" stroke="#fff" stroke-width="0.55">569.4</text>
</svg>
</body>
</html>
